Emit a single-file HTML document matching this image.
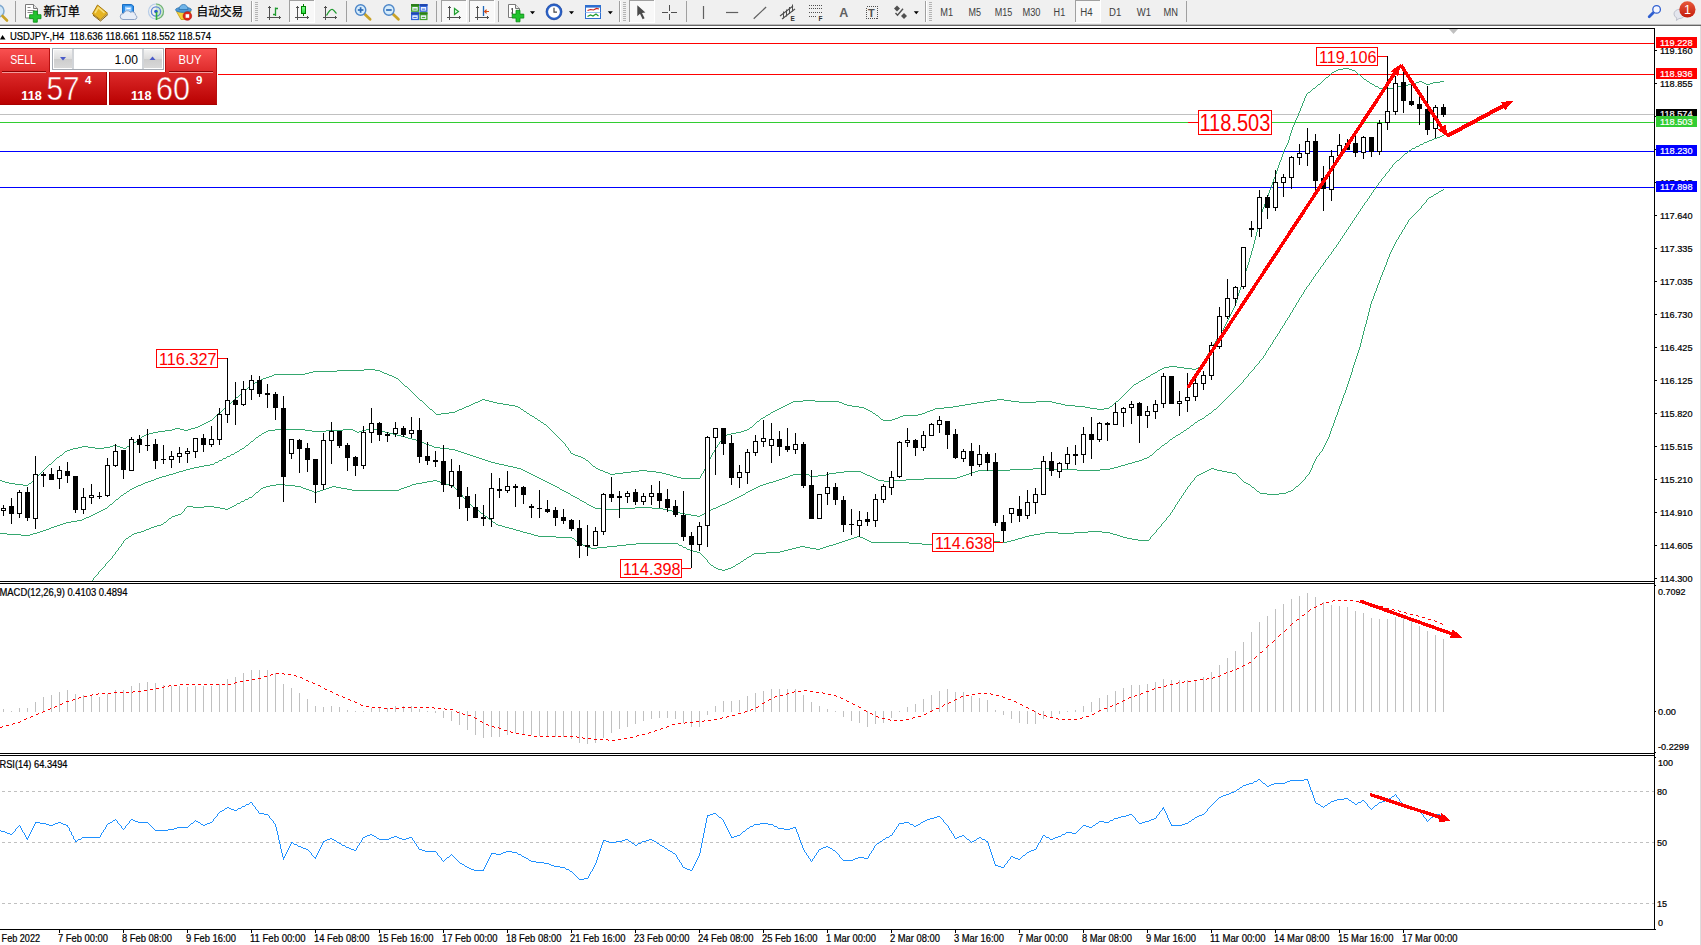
<!DOCTYPE html>
<html lang="zh"><head><meta charset="utf-8"><title>USDJPY-,H4</title>
<style>
html,body{margin:0;padding:0;background:#fff;overflow:hidden}
svg{display:block;font-family:"Liberation Sans","Noto Sans CJK SC",sans-serif}
</style></head><body>
<svg width="1701" height="945" viewBox="0 0 1701 945">
<rect x="0" y="0" width="1701" height="945" fill="#fff"/>
<rect x="0" y="43" width="1654" height="1" fill="#ff0000"/>
<rect x="0" y="74" width="1654" height="1" fill="#ff0000"/>
<rect x="0" y="114" width="1654" height="1" fill="#c0c0c0"/>
<rect x="0" y="122" width="1654" height="1" fill="#32cd32"/>
<rect x="0" y="151" width="1654" height="1" fill="#0000ff"/>
<rect x="0" y="187" width="1654" height="1" fill="#0000ff"/>
<path d="M0 480h2v1h-2zM2 481h3v1h-3zM5 482h4v1h-4zM9 483h6v1h-6zM15 484h8v1h-8zM23 485h5v1h-5zM29 483h2v1h-2zM49 464h2v1h-2zM57 457h2v1h-2zM60 455h2v1h-2zM65 451h2v1h-2zM67 450h3v1h-3zM70 449h3v1h-3zM73 448h5v1h-5zM78 447h4v1h-4zM82 446h6v1h-6zM88 447h7v1h-7zM95 448h9v1h-9zM104 447h6v1h-6zM110 446h3v1h-3zM113 445h4v1h-4zM117 446h3v1h-3zM120 447h3v1h-3zM123 448h3v1h-3zM127 446h3v1h-3zM131 444h2v1h-2zM134 442h2v1h-2zM139 438h2v1h-2zM142 436h2v1h-2zM144 435h2v1h-2zM146 434h3v1h-3zM149 433h4v1h-4zM153 432h5v1h-5zM158 431h7v1h-7zM165 430h7v1h-7zM172 429h3v1h-3zM175 428h5v1h-5zM180 429h4v1h-4zM184 430h4v1h-4zM188 429h3v1h-3zM191 428h4v1h-4zM195 427h3v1h-3zM198 426h2v1h-2zM200 425h2v1h-2zM202 424h2v1h-2zM204 423h2v1h-2zM206 422h2v1h-2zM208 421h2v1h-2zM210 420h2v1h-2zM218 413h2v1h-2zM229 403h2v1h-2zM236 397h2v1h-2zM243 391h2v1h-2zM249 386h2v1h-2zM253 383h2v1h-2zM255 382h2v1h-2zM257 381h2v1h-2zM259 380h2v1h-2zM261 379h2v1h-2zM263 378h3v1h-3zM266 377h3v1h-3zM269 376h3v1h-3zM272 375h2v1h-2zM274 374h31v1h-31zM305 373h4v1h-4zM309 372h4v1h-4zM313 371h24v1h-24zM337 370h27v1h-27zM364 369h11v1h-11zM375 370h5v1h-5zM380 371h2v1h-2zM382 372h2v1h-2zM384 373h3v1h-3zM387 374h2v1h-2zM389 375h3v1h-3zM392 376h2v1h-2zM394 377h2v1h-2zM396 378h2v1h-2zM405 386h2v1h-2zM420 400h2v1h-2zM430 409h2v1h-2zM436 414h5v1h-5zM441 413h8v1h-8zM449 412h6v1h-6zM455 411h2v1h-2zM457 410h2v1h-2zM459 409h3v1h-3zM462 408h2v1h-2zM464 407h2v1h-2zM466 406h3v1h-3zM469 405h2v1h-2zM471 404h2v1h-2zM473 403h2v1h-2zM475 402h3v1h-3zM478 401h2v1h-2zM480 400h2v1h-2zM482 399h3v1h-3zM485 400h4v1h-4zM489 401h4v1h-4zM493 402h4v1h-4zM497 403h6v1h-6zM503 404h6v1h-6zM509 405h6v1h-6zM515 406h3v1h-3zM518 407h2v1h-2zM521 409h2v1h-2zM524 411h2v1h-2zM527 413h2v1h-2zM530 415h2v1h-2zM532 416h2v1h-2zM535 418h2v1h-2zM538 420h2v1h-2zM541 422h2v1h-2zM544 424h2v1h-2zM571 453h2v1h-2zM573 454h2v1h-2zM575 455h3v1h-3zM578 456h3v1h-3zM581 457h2v1h-2zM583 458h2v1h-2zM586 460h2v1h-2zM593 466h2v1h-2zM596 468h2v1h-2zM598 469h2v1h-2zM600 470h3v1h-3zM603 471h2v1h-2zM605 472h3v1h-3zM608 473h2v1h-2zM610 474h5v1h-5zM615 473h8v1h-8zM623 472h8v1h-8zM631 471h8v1h-8zM639 470h8v1h-8zM647 471h9v1h-9zM656 472h6v1h-6zM662 473h4v1h-4zM666 474h4v1h-4zM670 475h3v1h-3zM673 476h4v1h-4zM677 477h4v1h-4zM681 478h19v1h-19zM727 434h4v1h-4zM731 433h5v1h-5zM736 432h5v1h-5zM741 431h3v1h-3zM744 430h3v1h-3zM747 429h2v1h-2zM750 427h2v1h-2zM757 421h2v1h-2zM761 418h2v1h-2zM763 417h2v1h-2zM766 415h2v1h-2zM768 414h2v1h-2zM771 412h2v1h-2zM773 411h2v1h-2zM775 410h2v1h-2zM777 409h2v1h-2zM779 408h2v1h-2zM781 407h2v1h-2zM783 406h2v1h-2zM785 405h2v1h-2zM787 404h2v1h-2zM789 403h2v1h-2zM791 402h2v1h-2zM793 401h10v1h-10zM803 400h12v1h-12zM815 401h24v1h-24zM839 402h3v1h-3zM842 403h2v1h-2zM844 404h3v1h-3zM847 405h5v1h-5zM852 406h7v1h-7zM859 407h5v1h-5zM864 408h2v1h-2zM866 409h2v1h-2zM868 410h2v1h-2zM870 411h2v1h-2zM873 413h2v1h-2zM876 415h2v1h-2zM881 419h2v1h-2zM883 420h9v1h-9zM892 419h3v1h-3zM895 418h3v1h-3zM898 417h2v1h-2zM900 416h3v1h-3zM903 415h15v1h-15zM918 414h4v1h-4zM922 413h3v1h-3zM925 412h2v1h-2zM927 411h3v1h-3zM930 410h3v1h-3zM933 409h2v1h-2zM935 408h9v1h-9zM944 407h9v1h-9zM953 406h6v1h-6zM959 405h6v1h-6zM965 404h6v1h-6zM971 403h6v1h-6zM977 402h7v1h-7zM984 401h6v1h-6zM990 400h7v1h-7zM997 399h7v1h-7zM1004 400h7v1h-7zM1011 401h8v1h-8zM1019 402h17v1h-17zM1036 401h16v1h-16zM1052 402h4v1h-4zM1056 403h5v1h-5zM1061 404h4v1h-4zM1065 405h10v1h-10zM1075 406h10v1h-10zM1085 407h5v1h-5zM1090 408h7v1h-7zM1097 409h7v1h-7zM1104 408h5v1h-5zM1110 406h2v1h-2zM1116 401h2v1h-2zM1134 384h2v1h-2zM1136 383h2v1h-2zM1139 381h2v1h-2zM1141 380h2v1h-2zM1143 379h2v1h-2zM1146 377h2v1h-2zM1148 376h2v1h-2zM1151 374h2v1h-2zM1153 373h2v1h-2zM1155 372h2v1h-2zM1158 370h2v1h-2zM1160 369h2v1h-2zM1162 368h2v1h-2zM1164 367h5v1h-5zM1169 366h8v1h-8zM1177 367h7v1h-7zM1184 368h8v1h-8zM1192 369h4v1h-4zM1196 368h2v1h-2zM1198 367h2v1h-2zM1308 92h2v1h-2zM1313 88h2v1h-2zM1318 84h2v1h-2zM1326 77h2v1h-2zM1332 72h2v1h-2zM1334 71h2v1h-2zM1336 70h2v1h-2zM1338 69h5v1h-5zM1343 68h6v1h-6zM1349 69h3v1h-3zM1352 70h3v1h-3zM1358 74h2v1h-2zM1364 79h2v1h-2zM1367 81h2v1h-2zM1370 83h2v1h-2zM1372 84h2v1h-2zM1375 86h3v1h-3zM1379 88h15v1h-15zM1394 87h4v1h-4zM1398 86h5v1h-5zM1403 85h5v1h-5zM1408 84h5v1h-5zM1413 83h3v1h-3zM1416 82h3v1h-3zM1419 81h3v1h-3zM1422 82h2v1h-2zM1424 83h2v1h-2zM1426 84h4v1h-4zM1430 83h3v1h-3zM1433 82h7v1h-7zM1440 81h4v1h-4zM28 484h1v1h-1zM31 482h1v1h-1zM32 481h1v1h-1zM33 480h1v1h-1zM34 479h1v1h-1zM35 478h1v1h-1zM36 477h1v1h-1zM37 476h1v1h-1zM38 475h1v1h-1zM39 474h1v1h-1zM40 473h1v1h-1zM41 472h1v1h-1zM42 471h1v1h-1zM43 470h1v1h-1zM44 469h1v1h-1zM45 468h1v1h-1zM46 467h1v1h-1zM47 466h1v1h-1zM48 465h1v1h-1zM51 463h1v1h-1zM52 462h1v1h-1zM53 461h1v1h-1zM54 460h1v1h-1zM55 459h1v1h-1zM56 458h1v1h-1zM59 456h1v1h-1zM62 454h1v1h-1zM63 453h1v1h-1zM64 452h1v1h-1zM126 447h1v1h-1zM130 445h1v1h-1zM133 443h1v1h-1zM136 441h1v1h-1zM137 440h1v1h-1zM138 439h1v1h-1zM141 437h1v1h-1zM212 419h1v1h-1zM213 418h1v1h-1zM214 417h1v1h-1zM215 416h1v1h-1zM216 415h1v1h-1zM217 414h1v1h-1zM220 412h1v1h-1zM221 411h1v1h-1zM222 410h1v1h-1zM223 409h1v1h-1zM224 408h1v1h-1zM225 407h1v1h-1zM226 406h1v1h-1zM227 405h1v1h-1zM228 404h1v1h-1zM231 402h1v1h-1zM232 401h1v1h-1zM233 400h1v1h-1zM234 399h1v1h-1zM235 398h1v1h-1zM238 396h1v1h-1zM239 395h1v1h-1zM240 394h1v1h-1zM241 393h1v1h-1zM242 392h1v1h-1zM245 390h1v1h-1zM246 389h1v1h-1zM247 388h1v1h-1zM248 387h1v1h-1zM251 385h1v1h-1zM252 384h1v1h-1zM398 379h1v1h-1zM399 380h1v1h-1zM400 381h1v1h-1zM401 382h1v1h-1zM402 383h1v1h-1zM403 384h1v1h-1zM404 385h1v1h-1zM407 387h1v1h-1zM408 388h1v1h-1zM409 389h1v1h-1zM410 390h1v1h-1zM411 391h1v1h-1zM412 392h1v1h-1zM413 393h1v1h-1zM414 394h1v1h-1zM415 395h1v1h-1zM416 396h1v1h-1zM417 397h1v1h-1zM418 398h1v1h-1zM419 399h1v1h-1zM422 401h1v1h-1zM423 402h1v1h-1zM424 403h1v1h-1zM425 404h1v1h-1zM426 405h1v1h-1zM427 406h1v1h-1zM428 407h1v1h-1zM429 408h1v1h-1zM432 410h1v1h-1zM433 411h1v1h-1zM434 412h1v1h-1zM435 413h1v1h-1zM520 408h1v1h-1zM523 410h1v1h-1zM526 412h1v1h-1zM529 414h1v1h-1zM534 417h1v1h-1zM537 419h1v1h-1zM540 421h1v1h-1zM543 423h1v1h-1zM546 425h1v1h-1zM547 426h1v1h-1zM548 427h1v1h-1zM549 428h1v1h-1zM550 429h1v1h-1zM551 430h1v1h-1zM552 431h1v1h-1zM553 432h1v1h-1zM554 433h1v1h-1zM555 434h1v1h-1zM556 435h1v1h-1zM557 436h1v1h-1zM558 437h1v1h-1zM559 438h1v1h-1zM560 439h1v1h-1zM561 440h1v1h-1zM562 441h1v1h-1zM563 442h1v1h-1zM564 443h1v1h-1zM565 444h1v2h-1zM566 446h1v1h-1zM567 447h1v1h-1zM568 448h1v2h-1zM569 450h1v1h-1zM570 451h1v2h-1zM585 459h1v1h-1zM588 461h1v1h-1zM589 462h1v1h-1zM590 463h1v1h-1zM591 464h1v1h-1zM592 465h1v1h-1zM595 467h1v1h-1zM700 476h1v2h-1zM701 474h1v2h-1zM702 473h1v1h-1zM703 471h1v2h-1zM704 469h1v2h-1zM705 467h1v2h-1zM706 465h1v2h-1zM707 463h1v2h-1zM708 461h1v2h-1zM709 459h1v2h-1zM710 457h1v2h-1zM711 455h1v2h-1zM712 453h1v2h-1zM713 452h1v1h-1zM714 450h1v2h-1zM715 448h1v2h-1zM716 447h1v1h-1zM717 445h1v2h-1zM718 444h1v1h-1zM719 442h1v2h-1zM720 441h1v1h-1zM721 440h1v1h-1zM722 439h1v1h-1zM723 438h1v1h-1zM724 437h1v1h-1zM725 436h1v1h-1zM726 435h1v1h-1zM749 428h1v1h-1zM752 426h1v1h-1zM753 425h1v1h-1zM754 424h1v1h-1zM755 423h1v1h-1zM756 422h1v1h-1zM759 420h1v1h-1zM760 419h1v1h-1zM765 416h1v1h-1zM770 413h1v1h-1zM872 412h1v1h-1zM875 414h1v1h-1zM878 416h1v1h-1zM879 417h1v1h-1zM880 418h1v1h-1zM1109 407h1v1h-1zM1112 405h1v1h-1zM1113 404h1v1h-1zM1114 403h1v1h-1zM1115 402h1v1h-1zM1118 400h1v1h-1zM1119 399h1v1h-1zM1120 398h1v1h-1zM1121 397h1v1h-1zM1122 396h1v1h-1zM1123 395h1v1h-1zM1124 394h1v1h-1zM1125 393h1v1h-1zM1126 392h1v1h-1zM1127 391h1v1h-1zM1128 390h1v1h-1zM1129 389h1v1h-1zM1130 388h1v1h-1zM1131 387h1v1h-1zM1132 386h1v1h-1zM1133 385h1v1h-1zM1138 382h1v1h-1zM1145 378h1v1h-1zM1150 375h1v1h-1zM1157 371h1v1h-1zM1200 366h1v1h-1zM1201 364h1v2h-1zM1202 362h1v2h-1zM1203 361h1v1h-1zM1204 359h1v2h-1zM1205 358h1v1h-1zM1206 356h1v2h-1zM1207 354h1v2h-1zM1208 353h1v1h-1zM1209 351h1v2h-1zM1210 349h1v2h-1zM1211 348h1v1h-1zM1212 346h1v2h-1zM1213 344h1v2h-1zM1214 343h1v1h-1zM1215 341h1v2h-1zM1216 339h1v2h-1zM1217 338h1v1h-1zM1218 336h1v2h-1zM1219 335h1v1h-1zM1220 333h1v2h-1zM1221 331h1v2h-1zM1222 330h1v1h-1zM1223 328h1v2h-1zM1224 326h1v2h-1zM1225 324h1v2h-1zM1226 322h1v2h-1zM1227 320h1v2h-1zM1228 318h1v2h-1zM1229 316h1v2h-1zM1230 314h1v2h-1zM1231 312h1v2h-1zM1232 310h1v2h-1zM1233 308h1v2h-1zM1234 306h1v2h-1zM1235 303h1v3h-1zM1236 300h1v3h-1zM1237 296h1v4h-1zM1238 293h1v3h-1zM1239 290h1v3h-1zM1240 287h1v3h-1zM1241 284h1v3h-1zM1242 281h1v3h-1zM1243 278h1v3h-1zM1244 274h1v4h-1zM1245 271h1v3h-1zM1246 268h1v3h-1zM1247 265h1v3h-1zM1248 262h1v3h-1zM1249 258h1v4h-1zM1250 255h1v3h-1zM1251 251h1v4h-1zM1252 248h1v3h-1zM1253 244h1v4h-1zM1254 240h1v4h-1zM1255 236h1v4h-1zM1256 232h1v4h-1zM1257 228h1v4h-1zM1258 224h1v4h-1zM1259 220h1v4h-1zM1260 216h1v4h-1zM1261 212h1v4h-1zM1262 209h1v3h-1zM1263 207h1v2h-1zM1264 204h1v3h-1zM1265 201h1v3h-1zM1266 198h1v3h-1zM1267 196h1v2h-1zM1268 193h1v3h-1zM1269 190h1v3h-1zM1270 188h1v2h-1zM1271 185h1v3h-1zM1272 182h1v3h-1zM1273 179h1v3h-1zM1274 177h1v2h-1zM1275 174h1v3h-1zM1276 171h1v3h-1zM1277 168h1v3h-1zM1278 165h1v3h-1zM1279 162h1v3h-1zM1280 160h1v2h-1zM1281 157h1v3h-1zM1282 154h1v3h-1zM1283 151h1v3h-1zM1284 149h1v2h-1zM1285 147h1v2h-1zM1286 145h1v2h-1zM1287 143h1v2h-1zM1288 140h1v3h-1zM1289 136h1v4h-1zM1290 133h1v3h-1zM1291 130h1v3h-1zM1292 127h1v3h-1zM1293 125h1v2h-1zM1294 123h1v2h-1zM1295 120h1v3h-1zM1296 118h1v2h-1zM1297 116h1v2h-1zM1298 113h1v3h-1zM1299 111h1v2h-1zM1300 108h1v3h-1zM1301 106h1v2h-1zM1302 103h1v3h-1zM1303 101h1v2h-1zM1304 98h1v3h-1zM1305 96h1v2h-1zM1306 94h1v2h-1zM1307 93h1v1h-1zM1310 91h1v1h-1zM1311 90h1v1h-1zM1312 89h1v1h-1zM1315 87h1v1h-1zM1316 86h1v1h-1zM1317 85h1v1h-1zM1320 83h1v1h-1zM1321 82h1v1h-1zM1322 81h1v1h-1zM1323 80h1v1h-1zM1324 79h1v1h-1zM1325 78h1v1h-1zM1328 76h1v1h-1zM1329 75h1v1h-1zM1330 74h1v1h-1zM1331 73h1v1h-1zM1355 71h1v1h-1zM1356 72h1v1h-1zM1357 73h1v1h-1zM1360 75h1v1h-1zM1361 76h1v1h-1zM1362 77h1v1h-1zM1363 78h1v1h-1zM1366 80h1v1h-1zM1369 82h1v1h-1zM1374 85h1v1h-1zM1378 87h1v1h-1z" fill="#35a76f" shape-rendering="crispEdges"/>
<path d="M0 533h7v1h-7zM7 534h14v1h-14zM21 535h9v1h-9zM30 534h3v1h-3zM33 533h4v1h-4zM37 532h3v1h-3zM40 531h3v1h-3zM43 530h3v1h-3zM46 529h3v1h-3zM49 528h2v1h-2zM51 527h3v1h-3zM54 526h3v1h-3zM57 525h3v1h-3zM60 524h3v1h-3zM63 523h3v1h-3zM66 522h5v1h-5zM71 521h6v1h-6zM77 520h5v1h-5zM82 519h2v1h-2zM84 518h2v1h-2zM86 517h3v1h-3zM89 516h2v1h-2zM91 515h2v1h-2zM93 514h2v1h-2zM95 513h2v1h-2zM97 512h2v1h-2zM99 511h2v1h-2zM101 510h2v1h-2zM103 509h2v1h-2zM105 508h2v1h-2zM110 504h2v1h-2zM116 499h2v1h-2zM121 495h2v1h-2zM124 493h2v1h-2zM127 491h2v1h-2zM130 489h2v1h-2zM132 488h2v1h-2zM134 487h2v1h-2zM136 486h2v1h-2zM138 485h3v1h-3zM141 484h2v1h-2zM143 483h2v1h-2zM145 482h3v1h-3zM148 481h3v1h-3zM151 480h3v1h-3zM154 479h2v1h-2zM156 478h3v1h-3zM159 477h3v1h-3zM162 476h4v1h-4zM166 475h3v1h-3zM169 474h4v1h-4zM173 473h3v1h-3zM176 472h3v1h-3zM179 471h4v1h-4zM183 470h3v1h-3zM186 469h4v1h-4zM190 468h4v1h-4zM194 467h5v1h-5zM199 466h5v1h-5zM204 465h6v1h-6zM210 464h4v1h-4zM215 462h3v1h-3zM219 460h3v1h-3zM223 458h3v1h-3zM227 456h3v1h-3zM231 454h3v1h-3zM235 452h2v1h-2zM237 451h2v1h-2zM240 449h2v1h-2zM242 448h2v1h-2zM246 445h2v1h-2zM251 441h2v1h-2zM256 437h2v1h-2zM259 435h2v1h-2zM262 433h2v1h-2zM264 432h2v1h-2zM266 431h2v1h-2zM268 430h7v1h-7zM275 429h30v1h-30zM305 430h7v1h-7zM312 431h14v1h-14zM326 430h17v1h-17zM343 429h10v1h-10zM353 430h2v1h-2zM355 431h2v1h-2zM357 432h2v1h-2zM359 431h3v1h-3zM362 430h4v1h-4zM366 429h3v1h-3zM369 428h4v1h-4zM373 429h4v1h-4zM377 430h4v1h-4zM381 431h4v1h-4zM385 432h4v1h-4zM389 433h4v1h-4zM393 434h4v1h-4zM397 435h4v1h-4zM401 436h4v1h-4zM405 437h3v1h-3zM408 438h4v1h-4zM412 439h4v1h-4zM416 440h3v1h-3zM419 441h2v1h-2zM421 442h3v1h-3zM424 443h2v1h-2zM426 444h3v1h-3zM429 445h3v1h-3zM432 446h2v1h-2zM434 447h6v1h-6zM440 448h9v1h-9zM449 449h6v1h-6zM455 450h3v1h-3zM458 451h3v1h-3zM461 452h3v1h-3zM464 453h3v1h-3zM467 454h3v1h-3zM470 455h3v1h-3zM473 456h3v1h-3zM476 457h3v1h-3zM479 458h3v1h-3zM482 459h3v1h-3zM485 460h3v1h-3zM488 461h3v1h-3zM491 462h4v1h-4zM495 463h4v1h-4zM499 464h5v1h-5zM504 465h4v1h-4zM508 466h5v1h-5zM513 467h4v1h-4zM517 468h4v1h-4zM521 469h2v1h-2zM523 470h2v1h-2zM525 471h2v1h-2zM527 472h2v1h-2zM529 473h2v1h-2zM531 474h2v1h-2zM533 475h2v1h-2zM535 476h2v1h-2zM537 477h2v1h-2zM539 478h2v1h-2zM541 479h2v1h-2zM543 480h2v1h-2zM545 481h2v1h-2zM547 482h2v1h-2zM549 483h2v1h-2zM551 484h2v1h-2zM553 485h2v1h-2zM555 486h2v1h-2zM557 487h2v1h-2zM560 489h2v1h-2zM562 490h2v1h-2zM564 491h2v1h-2zM566 492h2v1h-2zM568 493h2v1h-2zM571 495h2v1h-2zM573 496h2v1h-2zM575 497h2v1h-2zM577 498h2v1h-2zM580 500h2v1h-2zM582 501h2v1h-2zM584 502h2v1h-2zM587 504h2v1h-2zM589 505h2v1h-2zM591 506h2v1h-2zM593 507h2v1h-2zM595 508h9v1h-9zM604 509h15v1h-15zM619 508h16v1h-16zM635 507h17v1h-17zM652 508h11v1h-11zM663 509h4v1h-4zM667 510h5v1h-5zM672 511h4v1h-4zM676 512h4v1h-4zM680 513h5v1h-5zM685 514h6v1h-6zM691 515h6v1h-6zM697 516h3v1h-3zM700 515h2v1h-2zM702 514h2v1h-2zM705 512h2v1h-2zM707 511h2v1h-2zM709 510h2v1h-2zM711 509h2v1h-2zM713 508h3v1h-3zM716 507h2v1h-2zM718 506h2v1h-2zM720 505h2v1h-2zM722 504h3v1h-3zM725 503h2v1h-2zM727 502h2v1h-2zM729 501h2v1h-2zM731 500h2v1h-2zM733 499h2v1h-2zM735 498h2v1h-2zM737 497h2v1h-2zM739 496h2v1h-2zM741 495h2v1h-2zM743 494h2v1h-2zM746 492h2v1h-2zM748 491h2v1h-2zM750 490h2v1h-2zM752 489h2v1h-2zM754 488h2v1h-2zM756 487h2v1h-2zM758 486h2v1h-2zM760 485h3v1h-3zM763 484h3v1h-3zM766 483h3v1h-3zM769 482h4v1h-4zM773 481h3v1h-3zM776 480h3v1h-3zM779 479h3v1h-3zM782 478h3v1h-3zM785 477h3v1h-3zM788 476h2v1h-2zM790 475h3v1h-3zM793 474h16v1h-16zM810 476h8v1h-8zM818 475h8v1h-8zM826 474h3v1h-3zM829 473h7v1h-7zM836 472h8v1h-8zM844 471h17v1h-17zM861 472h2v1h-2zM863 473h2v1h-2zM865 474h2v1h-2zM867 475h3v1h-3zM870 476h2v1h-2zM872 477h2v1h-2zM874 478h2v1h-2zM876 479h2v1h-2zM878 480h6v1h-6zM884 481h9v1h-9zM893 480h13v1h-13zM906 479h18v1h-18zM924 478h33v1h-33zM957 477h3v1h-3zM960 476h3v1h-3zM963 475h3v1h-3zM966 474h3v1h-3zM969 473h3v1h-3zM972 472h3v1h-3zM975 471h3v1h-3zM978 470h32v1h-32zM1010 469h23v1h-23zM1033 468h20v1h-20zM1053 469h24v1h-24zM1077 470h23v1h-23zM1100 469h10v1h-10zM1110 468h4v1h-4zM1114 467h4v1h-4zM1118 466h3v1h-3zM1121 465h4v1h-4zM1125 464h3v1h-3zM1128 463h4v1h-4zM1132 462h3v1h-3zM1135 461h4v1h-4zM1139 460h3v1h-3zM1142 459h2v1h-2zM1144 458h3v1h-3zM1147 457h2v1h-2zM1150 455h2v1h-2zM1157 449h2v1h-2zM1162 445h2v1h-2zM1165 443h2v1h-2zM1170 439h2v1h-2zM1173 437h2v1h-2zM1176 435h2v1h-2zM1178 434h2v1h-2zM1181 432h2v1h-2zM1184 430h2v1h-2zM1187 428h2v1h-2zM1191 425h2v1h-2zM1195 422h2v1h-2zM1198 420h2v1h-2zM1200 419h2v1h-2zM1202 418h2v1h-2zM1206 415h2v1h-2zM1209 413h2v1h-2zM1214 409h2v1h-2zM1397 160h2v1h-2zM1405 153h2v1h-2zM1409 150h2v1h-2zM1412 148h3v1h-3zM1416 146h3v1h-3zM1420 144h3v1h-3zM1424 142h3v1h-3zM1427 141h2v1h-2zM1429 140h3v1h-3zM1432 139h2v1h-2zM1434 138h3v1h-3zM1437 137h3v1h-3zM1440 136h2v1h-2zM1442 135h2v1h-2zM107 507h1v1h-1zM108 506h1v1h-1zM109 505h1v1h-1zM112 503h1v1h-1zM113 502h1v1h-1zM114 501h1v1h-1zM115 500h1v1h-1zM118 498h1v1h-1zM119 497h1v1h-1zM120 496h1v1h-1zM123 494h1v1h-1zM126 492h1v1h-1zM129 490h1v1h-1zM214 463h1v1h-1zM218 461h1v1h-1zM222 459h1v1h-1zM226 457h1v1h-1zM230 455h1v1h-1zM234 453h1v1h-1zM239 450h1v1h-1zM244 447h1v1h-1zM245 446h1v1h-1zM248 444h1v1h-1zM249 443h1v1h-1zM250 442h1v1h-1zM253 440h1v1h-1zM254 439h1v1h-1zM255 438h1v1h-1zM258 436h1v1h-1zM261 434h1v1h-1zM559 488h1v1h-1zM570 494h1v1h-1zM579 499h1v1h-1zM586 503h1v1h-1zM704 513h1v1h-1zM745 493h1v1h-1zM809 475h1v1h-1zM1149 456h1v1h-1zM1152 454h1v1h-1zM1153 453h1v1h-1zM1154 452h1v1h-1zM1155 451h1v1h-1zM1156 450h1v1h-1zM1159 448h1v1h-1zM1160 447h1v1h-1zM1161 446h1v1h-1zM1164 444h1v1h-1zM1167 442h1v1h-1zM1168 441h1v1h-1zM1169 440h1v1h-1zM1172 438h1v1h-1zM1175 436h1v1h-1zM1180 433h1v1h-1zM1183 431h1v1h-1zM1186 429h1v1h-1zM1189 427h1v1h-1zM1190 426h1v1h-1zM1193 424h1v1h-1zM1194 423h1v1h-1zM1197 421h1v1h-1zM1204 417h1v1h-1zM1205 416h1v1h-1zM1208 414h1v1h-1zM1211 412h1v1h-1zM1212 411h1v1h-1zM1213 410h1v1h-1zM1216 408h1v1h-1zM1217 407h1v1h-1zM1218 406h1v1h-1zM1219 405h1v1h-1zM1220 404h1v1h-1zM1221 403h1v1h-1zM1222 402h1v1h-1zM1223 401h1v1h-1zM1224 400h1v1h-1zM1225 399h1v1h-1zM1226 398h1v1h-1zM1227 397h1v1h-1zM1228 396h1v1h-1zM1229 395h1v1h-1zM1230 394h1v1h-1zM1231 393h1v1h-1zM1232 392h1v1h-1zM1233 391h1v1h-1zM1234 390h1v1h-1zM1235 389h1v1h-1zM1236 388h1v1h-1zM1237 387h1v1h-1zM1238 386h1v1h-1zM1239 385h1v1h-1zM1240 384h1v1h-1zM1241 383h1v1h-1zM1242 382h1v1h-1zM1243 380h1v2h-1zM1244 379h1v1h-1zM1245 378h1v1h-1zM1246 377h1v1h-1zM1247 376h1v1h-1zM1248 374h1v2h-1zM1249 373h1v1h-1zM1250 372h1v1h-1zM1251 371h1v1h-1zM1252 370h1v1h-1zM1253 369h1v1h-1zM1254 367h1v2h-1zM1255 366h1v1h-1zM1256 365h1v1h-1zM1257 364h1v1h-1zM1258 363h1v1h-1zM1259 361h1v2h-1zM1260 360h1v1h-1zM1261 359h1v1h-1zM1262 358h1v1h-1zM1263 356h1v2h-1zM1264 355h1v1h-1zM1265 353h1v2h-1zM1266 351h1v2h-1zM1267 350h1v1h-1zM1268 348h1v2h-1zM1269 347h1v1h-1zM1270 345h1v2h-1zM1271 344h1v1h-1zM1272 342h1v2h-1zM1273 340h1v2h-1zM1274 339h1v1h-1zM1275 337h1v2h-1zM1276 336h1v1h-1zM1277 334h1v2h-1zM1278 333h1v1h-1zM1279 331h1v2h-1zM1280 329h1v2h-1zM1281 328h1v1h-1zM1282 326h1v2h-1zM1283 325h1v1h-1zM1284 323h1v2h-1zM1285 321h1v2h-1zM1286 320h1v1h-1zM1287 318h1v2h-1zM1288 317h1v1h-1zM1289 315h1v2h-1zM1290 313h1v2h-1zM1291 312h1v1h-1zM1292 310h1v2h-1zM1293 308h1v2h-1zM1294 307h1v1h-1zM1295 305h1v2h-1zM1296 303h1v2h-1zM1297 302h1v1h-1zM1298 300h1v2h-1zM1299 298h1v2h-1zM1300 297h1v1h-1zM1301 295h1v2h-1zM1302 294h1v1h-1zM1303 292h1v2h-1zM1304 290h1v2h-1zM1305 289h1v1h-1zM1306 287h1v2h-1zM1307 286h1v1h-1zM1308 285h1v1h-1zM1309 283h1v2h-1zM1310 282h1v1h-1zM1311 280h1v2h-1zM1312 279h1v1h-1zM1313 277h1v2h-1zM1314 276h1v1h-1zM1315 274h1v2h-1zM1316 273h1v1h-1zM1317 272h1v1h-1zM1318 270h1v2h-1zM1319 269h1v1h-1zM1320 267h1v2h-1zM1321 266h1v1h-1zM1322 265h1v1h-1zM1323 263h1v2h-1zM1324 262h1v1h-1zM1325 260h1v2h-1zM1326 259h1v1h-1zM1327 258h1v1h-1zM1328 256h1v2h-1zM1329 255h1v1h-1zM1330 254h1v1h-1zM1331 252h1v2h-1zM1332 251h1v1h-1zM1333 249h1v2h-1zM1334 248h1v1h-1zM1335 247h1v1h-1zM1336 245h1v2h-1zM1337 244h1v1h-1zM1338 242h1v2h-1zM1339 241h1v1h-1zM1340 239h1v2h-1zM1341 238h1v1h-1zM1342 236h1v2h-1zM1343 235h1v1h-1zM1344 233h1v2h-1zM1345 232h1v1h-1zM1346 230h1v2h-1zM1347 229h1v1h-1zM1348 227h1v2h-1zM1349 226h1v1h-1zM1350 224h1v2h-1zM1351 223h1v1h-1zM1352 221h1v2h-1zM1353 220h1v1h-1zM1354 218h1v2h-1zM1355 217h1v1h-1zM1356 215h1v2h-1zM1357 214h1v1h-1zM1358 212h1v2h-1zM1359 211h1v1h-1zM1360 209h1v2h-1zM1361 208h1v1h-1zM1362 206h1v2h-1zM1363 205h1v1h-1zM1364 203h1v2h-1zM1365 202h1v1h-1zM1366 201h1v1h-1zM1367 199h1v2h-1zM1368 198h1v1h-1zM1369 196h1v2h-1zM1370 195h1v1h-1zM1371 193h1v2h-1zM1372 192h1v1h-1zM1373 190h1v2h-1zM1374 189h1v1h-1zM1375 187h1v2h-1zM1376 186h1v1h-1zM1377 185h1v1h-1zM1378 183h1v2h-1zM1379 182h1v1h-1zM1380 181h1v1h-1zM1381 179h1v2h-1zM1382 178h1v1h-1zM1383 177h1v1h-1zM1384 176h1v1h-1zM1385 174h1v2h-1zM1386 173h1v1h-1zM1387 172h1v1h-1zM1388 171h1v1h-1zM1389 169h1v2h-1zM1390 168h1v1h-1zM1391 167h1v1h-1zM1392 165h1v2h-1zM1393 164h1v1h-1zM1394 163h1v1h-1zM1395 162h1v1h-1zM1396 161h1v1h-1zM1399 159h1v1h-1zM1400 158h1v1h-1zM1401 157h1v1h-1zM1402 156h1v1h-1zM1403 155h1v1h-1zM1404 154h1v1h-1zM1407 152h1v1h-1zM1408 151h1v1h-1zM1411 149h1v1h-1zM1415 147h1v1h-1zM1419 145h1v1h-1zM1423 143h1v1h-1z" fill="#35a76f" shape-rendering="crispEdges"/>
<path d="M126 538h2v1h-2zM129 536h2v1h-2zM132 534h2v1h-2zM134 533h3v1h-3zM137 532h4v1h-4zM141 531h3v1h-3zM144 530h2v1h-2zM146 529h3v1h-3zM149 528h2v1h-2zM151 527h3v1h-3zM154 526h3v1h-3zM157 525h4v1h-4zM161 524h2v1h-2zM164 522h2v1h-2zM169 518h2v1h-2zM172 516h3v1h-3zM175 515h3v1h-3zM178 514h3v1h-3zM187 506h6v1h-6zM193 507h11v1h-11zM204 506h10v1h-10zM214 507h6v1h-6zM220 508h5v1h-5zM225 509h3v1h-3zM228 508h2v1h-2zM230 507h2v1h-2zM232 506h2v1h-2zM234 505h2v1h-2zM237 503h3v1h-3zM241 501h3v1h-3zM245 499h3v1h-3zM249 497h3v1h-3zM256 492h2v1h-2zM261 488h2v1h-2zM263 487h3v1h-3zM266 486h4v1h-4zM270 485h6v1h-6zM276 484h9v1h-9zM285 485h10v1h-10zM295 486h6v1h-6zM301 487h2v1h-2zM303 488h3v1h-3zM306 489h3v1h-3zM309 490h3v1h-3zM312 491h2v1h-2zM314 492h3v1h-3zM317 491h3v1h-3zM320 490h3v1h-3zM323 489h3v1h-3zM326 488h3v1h-3zM329 487h3v1h-3zM332 486h4v1h-4zM336 487h5v1h-5zM341 488h6v1h-6zM347 489h5v1h-5zM352 490h47v1h-47zM399 489h2v1h-2zM401 488h3v1h-3zM404 487h3v1h-3zM407 486h3v1h-3zM410 485h2v1h-2zM412 484h4v1h-4zM416 483h6v1h-6zM422 482h5v1h-5zM427 481h6v1h-6zM433 480h4v1h-4zM437 481h3v1h-3zM440 482h3v1h-3zM443 483h3v1h-3zM446 484h3v1h-3zM449 485h3v1h-3zM452 486h2v1h-2zM473 507h2v1h-2zM477 510h2v1h-2zM481 513h2v1h-2zM485 516h2v1h-2zM489 519h2v1h-2zM493 522h2v1h-2zM496 524h2v1h-2zM498 525h4v1h-4zM502 526h3v1h-3zM505 527h4v1h-4zM509 528h4v1h-4zM513 529h3v1h-3zM516 530h4v1h-4zM520 531h3v1h-3zM523 532h4v1h-4zM527 533h4v1h-4zM531 534h3v1h-3zM534 535h4v1h-4zM538 536h18v1h-18zM556 537h16v1h-16zM572 538h2v1h-2zM576 541h2v1h-2zM579 543h2v1h-2zM581 544h2v1h-2zM583 545h3v1h-3zM586 546h2v1h-2zM588 547h3v1h-3zM591 548h6v1h-6zM597 547h10v1h-10zM607 546h10v1h-10zM617 545h9v1h-9zM626 544h10v1h-10zM636 543h42v1h-42zM679 545h3v1h-3zM683 547h3v1h-3zM687 549h3v1h-3zM690 550h3v1h-3zM693 551h4v1h-4zM697 552h3v1h-3zM711 565h2v1h-2zM714 567h2v1h-2zM716 568h2v1h-2zM718 569h4v1h-4zM722 570h3v1h-3zM725 569h3v1h-3zM728 568h3v1h-3zM731 567h2v1h-2zM733 566h2v1h-2zM736 564h2v1h-2zM738 563h2v1h-2zM741 561h2v1h-2zM744 559h2v1h-2zM747 557h2v1h-2zM749 556h2v1h-2zM752 554h2v1h-2zM754 553h12v1h-12zM766 552h14v1h-14zM780 551h4v1h-4zM784 550h4v1h-4zM788 549h4v1h-4zM792 548h4v1h-4zM796 547h4v1h-4zM800 546h5v1h-5zM805 547h5v1h-5zM810 548h6v1h-6zM816 549h4v1h-4zM820 548h3v1h-3zM823 547h3v1h-3zM826 546h3v1h-3zM829 545h4v1h-4zM833 544h3v1h-3zM836 543h3v1h-3zM839 542h3v1h-3zM842 541h3v1h-3zM845 540h3v1h-3zM848 539h3v1h-3zM851 538h3v1h-3zM854 537h3v1h-3zM857 536h3v1h-3zM860 537h3v1h-3zM863 538h2v1h-2zM865 539h2v1h-2zM867 540h2v1h-2zM869 541h2v1h-2zM871 542h38v1h-38zM909 543h13v1h-13zM922 544h18v1h-18zM940 543h22v1h-22zM962 542h22v1h-22zM984 541h16v1h-16zM1000 542h7v1h-7zM1007 541h4v1h-4zM1011 540h4v1h-4zM1015 539h3v1h-3zM1018 538h4v1h-4zM1022 537h3v1h-3zM1025 536h4v1h-4zM1029 535h5v1h-5zM1034 534h6v1h-6zM1040 533h5v1h-5zM1045 532h13v1h-13zM1058 533h16v1h-16zM1074 532h14v1h-14zM1088 531h14v1h-14zM1102 532h8v1h-8zM1110 533h3v1h-3zM1113 534h4v1h-4zM1117 535h3v1h-3zM1120 536h3v1h-3zM1123 537h4v1h-4zM1127 538h5v1h-5zM1132 539h6v1h-6zM1138 540h11v1h-11zM1197 475h2v1h-2zM1199 474h2v1h-2zM1201 473h2v1h-2zM1203 472h2v1h-2zM1205 471h2v1h-2zM1207 470h2v1h-2zM1209 469h2v1h-2zM1211 468h3v1h-3zM1214 469h3v1h-3zM1217 470h5v1h-5zM1222 471h5v1h-5zM1227 472h5v1h-5zM1232 473h4v1h-4zM1244 482h2v1h-2zM1246 483h2v1h-2zM1248 484h2v1h-2zM1252 487h2v1h-2zM1257 491h2v1h-2zM1260 493h7v1h-7zM1267 494h12v1h-12zM1279 493h7v1h-7zM1286 492h2v1h-2zM1288 491h3v1h-3zM1291 490h2v1h-2zM1296 486h2v1h-2zM1429 197h2v1h-2zM1431 196h2v1h-2zM1434 194h2v1h-2zM1436 193h2v1h-2zM1439 191h2v1h-2zM1441 190h2v1h-2zM91 581h1v1h-1zM92 580h1v1h-1zM93 578h1v2h-1zM94 577h1v1h-1zM95 576h1v1h-1zM96 575h1v1h-1zM97 574h1v1h-1zM98 572h1v2h-1zM99 571h1v1h-1zM100 570h1v1h-1zM101 569h1v1h-1zM102 568h1v1h-1zM103 567h1v1h-1zM104 566h1v1h-1zM105 564h1v2h-1zM106 563h1v1h-1zM107 562h1v1h-1zM108 561h1v1h-1zM109 560h1v1h-1zM110 559h1v1h-1zM111 558h1v1h-1zM112 556h1v2h-1zM113 555h1v1h-1zM114 554h1v1h-1zM115 552h1v2h-1zM116 551h1v1h-1zM117 550h1v1h-1zM118 548h1v2h-1zM119 547h1v1h-1zM120 546h1v1h-1zM121 544h1v2h-1zM122 543h1v1h-1zM123 541h1v2h-1zM124 540h1v1h-1zM125 539h1v1h-1zM128 537h1v1h-1zM131 535h1v1h-1zM163 523h1v1h-1zM166 521h1v1h-1zM167 520h1v1h-1zM168 519h1v1h-1zM171 517h1v1h-1zM181 513h1v1h-1zM182 512h1v1h-1zM183 511h1v1h-1zM184 509h1v2h-1zM185 508h1v1h-1zM186 507h1v1h-1zM236 504h1v1h-1zM240 502h1v1h-1zM244 500h1v1h-1zM248 498h1v1h-1zM252 496h1v1h-1zM253 495h1v1h-1zM254 494h1v1h-1zM255 493h1v1h-1zM258 491h1v1h-1zM259 490h1v1h-1zM260 489h1v1h-1zM454 487h1v1h-1zM455 488h1v1h-1zM456 489h1v1h-1zM457 490h1v1h-1zM458 491h1v1h-1zM459 492h1v1h-1zM460 493h1v1h-1zM461 494h1v1h-1zM462 495h1v2h-1zM463 497h1v1h-1zM464 498h1v1h-1zM465 499h1v1h-1zM466 500h1v1h-1zM467 501h1v1h-1zM468 502h1v1h-1zM469 503h1v1h-1zM470 504h1v1h-1zM471 505h1v1h-1zM472 506h1v1h-1zM475 508h1v1h-1zM476 509h1v1h-1zM479 511h1v1h-1zM480 512h1v1h-1zM483 514h1v1h-1zM484 515h1v1h-1zM487 517h1v1h-1zM488 518h1v1h-1zM491 520h1v1h-1zM492 521h1v1h-1zM495 523h1v1h-1zM574 539h1v1h-1zM575 540h1v1h-1zM578 542h1v1h-1zM678 544h1v1h-1zM682 546h1v1h-1zM686 548h1v1h-1zM700 553h1v1h-1zM701 554h1v1h-1zM702 555h1v1h-1zM703 556h1v1h-1zM704 557h1v1h-1zM705 558h1v1h-1zM706 559h1v1h-1zM707 560h1v2h-1zM708 562h1v1h-1zM709 563h1v1h-1zM710 564h1v1h-1zM713 566h1v1h-1zM735 565h1v1h-1zM740 562h1v1h-1zM743 560h1v1h-1zM746 558h1v1h-1zM751 555h1v1h-1zM1149 539h1v1h-1zM1150 537h1v2h-1zM1151 536h1v1h-1zM1152 535h1v1h-1zM1153 534h1v1h-1zM1154 533h1v1h-1zM1155 532h1v1h-1zM1156 530h1v2h-1zM1157 529h1v1h-1zM1158 528h1v1h-1zM1159 527h1v1h-1zM1160 526h1v1h-1zM1161 524h1v2h-1zM1162 523h1v1h-1zM1163 522h1v1h-1zM1164 521h1v1h-1zM1165 520h1v1h-1zM1166 518h1v2h-1zM1167 517h1v1h-1zM1168 516h1v1h-1zM1169 515h1v1h-1zM1170 513h1v2h-1zM1171 512h1v1h-1zM1172 510h1v2h-1zM1173 509h1v1h-1zM1174 507h1v2h-1zM1175 505h1v2h-1zM1176 504h1v1h-1zM1177 502h1v2h-1zM1178 501h1v1h-1zM1179 499h1v2h-1zM1180 498h1v1h-1zM1181 496h1v2h-1zM1182 495h1v1h-1zM1183 493h1v2h-1zM1184 492h1v1h-1zM1185 490h1v2h-1zM1186 489h1v1h-1zM1187 487h1v2h-1zM1188 486h1v1h-1zM1189 485h1v1h-1zM1190 483h1v2h-1zM1191 482h1v1h-1zM1192 481h1v1h-1zM1193 480h1v1h-1zM1194 478h1v2h-1zM1195 477h1v1h-1zM1196 476h1v1h-1zM1236 474h1v1h-1zM1237 475h1v1h-1zM1238 476h1v1h-1zM1239 477h1v1h-1zM1240 478h1v1h-1zM1241 479h1v1h-1zM1242 480h1v1h-1zM1243 481h1v1h-1zM1250 485h1v1h-1zM1251 486h1v1h-1zM1254 488h1v1h-1zM1255 489h1v1h-1zM1256 490h1v1h-1zM1259 492h1v1h-1zM1293 489h1v1h-1zM1294 488h1v1h-1zM1295 487h1v1h-1zM1298 485h1v1h-1zM1299 484h1v1h-1zM1300 483h1v1h-1zM1301 482h1v1h-1zM1302 481h1v1h-1zM1303 480h1v1h-1zM1304 479h1v1h-1zM1305 477h1v2h-1zM1306 476h1v1h-1zM1307 475h1v1h-1zM1308 474h1v1h-1zM1309 472h1v2h-1zM1310 470h1v2h-1zM1311 468h1v2h-1zM1312 465h1v3h-1zM1313 463h1v2h-1zM1314 461h1v2h-1zM1315 459h1v2h-1zM1316 457h1v2h-1zM1317 456h1v1h-1zM1318 455h1v1h-1zM1319 453h1v2h-1zM1320 452h1v1h-1zM1321 451h1v1h-1zM1322 449h1v2h-1zM1323 447h1v2h-1zM1324 445h1v2h-1zM1325 443h1v2h-1zM1326 441h1v2h-1zM1327 439h1v2h-1zM1328 437h1v2h-1zM1329 434h1v3h-1zM1330 431h1v3h-1zM1331 428h1v3h-1zM1332 426h1v2h-1zM1333 423h1v3h-1zM1334 420h1v3h-1zM1335 417h1v3h-1zM1336 415h1v2h-1zM1337 412h1v3h-1zM1338 409h1v3h-1zM1339 406h1v3h-1zM1340 404h1v2h-1zM1341 401h1v3h-1zM1342 398h1v3h-1zM1343 395h1v3h-1zM1344 393h1v2h-1zM1345 390h1v3h-1zM1346 387h1v3h-1zM1347 384h1v3h-1zM1348 381h1v3h-1zM1349 378h1v3h-1zM1350 375h1v3h-1zM1351 372h1v3h-1zM1352 368h1v4h-1zM1353 365h1v3h-1zM1354 362h1v3h-1zM1355 359h1v3h-1zM1356 356h1v3h-1zM1357 353h1v3h-1zM1358 350h1v3h-1zM1359 347h1v3h-1zM1360 343h1v4h-1zM1361 339h1v4h-1zM1362 335h1v4h-1zM1363 331h1v4h-1zM1364 327h1v4h-1zM1365 324h1v3h-1zM1366 320h1v4h-1zM1367 316h1v4h-1zM1368 312h1v4h-1zM1369 308h1v4h-1zM1370 304h1v4h-1zM1371 301h1v3h-1zM1372 299h1v2h-1zM1373 296h1v3h-1zM1374 293h1v3h-1zM1375 291h1v2h-1zM1376 288h1v3h-1zM1377 285h1v3h-1zM1378 283h1v2h-1zM1379 280h1v3h-1zM1380 277h1v3h-1zM1381 275h1v2h-1zM1382 272h1v3h-1zM1383 270h1v2h-1zM1384 267h1v3h-1zM1385 265h1v2h-1zM1386 262h1v3h-1zM1387 259h1v3h-1zM1388 257h1v2h-1zM1389 254h1v3h-1zM1390 252h1v2h-1zM1391 250h1v2h-1zM1392 248h1v2h-1zM1393 246h1v2h-1zM1394 244h1v2h-1zM1395 242h1v2h-1zM1396 240h1v2h-1zM1397 239h1v1h-1zM1398 237h1v2h-1zM1399 235h1v2h-1zM1400 234h1v1h-1zM1401 232h1v2h-1zM1402 230h1v2h-1zM1403 229h1v1h-1zM1404 227h1v2h-1zM1405 225h1v2h-1zM1406 224h1v1h-1zM1407 222h1v2h-1zM1408 220h1v2h-1zM1409 219h1v1h-1zM1410 218h1v1h-1zM1411 217h1v1h-1zM1412 216h1v1h-1zM1413 215h1v1h-1zM1414 214h1v1h-1zM1415 213h1v1h-1zM1416 212h1v1h-1zM1417 211h1v1h-1zM1418 210h1v1h-1zM1419 209h1v1h-1zM1420 208h1v1h-1zM1421 206h1v2h-1zM1422 205h1v1h-1zM1423 204h1v1h-1zM1424 203h1v1h-1zM1425 202h1v1h-1zM1426 200h1v2h-1zM1427 199h1v1h-1zM1428 198h1v1h-1zM1433 195h1v1h-1zM1438 192h1v1h-1zM1443 189h1v1h-1z" fill="#35a76f" shape-rendering="crispEdges"/>
<g shape-rendering="crispEdges">
<path d="M3 505h1V516h-1zM11 498h1V524h-1zM19 490h1V518h-1zM27 487h1V521h-1zM35 456h1V529h-1zM43 472h1V487h-1zM51 468h1V480h-1zM59 466h1V489h-1zM67 462h1V483h-1zM75 476h1V513h-1zM83 488h1V514h-1zM91 484h1V504h-1zM99 492h1V499h-1zM107 458h1V497h-1zM115 444h1V467h-1zM123 450h1V479h-1zM131 437h1V471h-1zM139 435h1V453h-1zM147 429h1V451h-1zM155 439h1V469h-1zM163 445h1V464h-1zM171 451h1V468h-1zM179 447h1V463h-1zM187 448h1V463h-1zM195 438h1V458h-1zM203 434h1V452h-1zM211 426h1V447h-1zM219 408h1V445h-1zM227 358h1V423h-1zM235 382h1V425h-1zM243 381h1V406h-1zM251 375h1V400h-1zM259 376h1V397h-1zM267 384h1V408h-1zM275 392h1V420h-1zM283 396h1V502h-1zM291 439h1V459h-1zM299 439h1V473h-1zM307 443h1V472h-1zM315 459h1V503h-1zM323 433h1V490h-1zM331 422h1V464h-1zM339 431h1V448h-1zM347 443h1V471h-1zM355 456h1V476h-1zM363 426h1V469h-1zM371 408h1V443h-1zM379 422h1V441h-1zM387 432h1V442h-1zM395 422h1V437h-1zM403 426h1V437h-1zM411 417h1V438h-1zM419 418h1V463h-1zM427 442h1V465h-1zM435 451h1V467h-1zM443 445h1V492h-1zM451 459h1V488h-1zM459 465h1V509h-1zM467 487h1V521h-1zM475 494h1V518h-1zM483 505h1V526h-1zM491 473h1V527h-1zM499 478h1V498h-1zM507 471h1V493h-1zM515 484h1V507h-1zM523 486h1V504h-1zM531 504h1V518h-1zM539 490h1V518h-1zM547 500h1V513h-1zM555 507h1V526h-1zM563 509h1V524h-1zM571 519h1V531h-1zM579 520h1V558h-1zM587 525h1V556h-1zM595 527h1V546h-1zM603 493h1V535h-1zM611 477h1V502h-1zM619 491h1V518h-1zM627 491h1V503h-1zM635 489h1V505h-1zM643 493h1V505h-1zM651 485h1V505h-1zM659 481h1V508h-1zM667 489h1V512h-1zM675 500h1V517h-1zM683 491h1V541h-1zM691 532h1V568h-1zM699 522h1V551h-1zM707 436h1V547h-1zM715 428h1V475h-1zM723 428h1V455h-1zM731 435h1V485h-1zM739 465h1V488h-1zM747 449h1V484h-1zM755 435h1V456h-1zM763 420h1V447h-1zM771 423h1V463h-1zM779 431h1V456h-1zM787 428h1V452h-1zM795 433h1V454h-1zM803 442h1V488h-1zM811 470h1V519h-1zM819 494h1V519h-1zM827 472h1V505h-1zM835 483h1V505h-1zM843 496h1V532h-1zM851 509h1V535h-1zM859 511h1V537h-1zM867 512h1V526h-1zM875 494h1V527h-1zM883 484h1V503h-1zM891 471h1V495h-1zM899 441h1V478h-1zM907 428h1V447h-1zM915 439h1V456h-1zM923 431h1V451h-1zM931 423h1V436h-1zM939 416h1V433h-1zM947 421h1V449h-1zM955 429h1V459h-1zM963 449h1V462h-1zM971 443h1V476h-1zM979 445h1V467h-1zM987 452h1V471h-1zM995 453h1V526h-1zM1003 515h1V542h-1zM1011 508h1V523h-1zM1019 496h1V522h-1zM1027 490h1V519h-1zM1035 488h1V514h-1zM1043 456h1V495h-1zM1051 452h1V476h-1zM1059 462h1V478h-1zM1067 447h1V469h-1zM1075 445h1V465h-1zM1083 427h1V463h-1zM1091 417h1V459h-1zM1099 422h1V442h-1zM1107 422h1V441h-1zM1115 403h1V425h-1zM1123 407h1V427h-1zM1131 401h1V424h-1zM1139 402h1V443h-1zM1147 406h1V428h-1zM1155 400h1V419h-1zM1163 373h1V408h-1zM1171 376h1V404h-1zM1179 391h1V416h-1zM1187 373h1V412h-1zM1195 378h1V401h-1zM1203 371h1V390h-1zM1211 342h1V380h-1zM1219 307h1V349h-1zM1227 279h1V319h-1zM1235 286h1V306h-1zM1243 247h1V289h-1zM1251 221h1V237h-1zM1259 190h1V237h-1zM1267 195h1V219h-1zM1275 170h1V211h-1zM1283 174h1V197h-1zM1291 156h1V189h-1zM1299 144h1V165h-1zM1307 128h1V166h-1zM1315 134h1V191h-1zM1323 166h1V211h-1zM1331 150h1V201h-1zM1339 134h1V156h-1zM1347 139h1V150h-1zM1355 131h1V157h-1zM1363 136h1V159h-1zM1371 137h1V157h-1zM1379 120h1V155h-1zM1387 56h1V130h-1zM1395 76h1V115h-1zM1403 71h1V113h-1zM1411 84h1V106h-1zM1419 96h1V125h-1zM1427 86h1V135h-1zM1435 105h1V138h-1zM1443 104h1V117h-1z" fill="#000"/>
<path d="M1 508h5v3h-5zM9 506h5v8h-5zM17 492h5v22h-5zM25 492h5v26h-5zM33 474h5v45h-5zM41 474h5v2h-5zM49 474h5v6h-5zM57 470h5v9h-5zM65 471h5v5h-5zM73 476h5v34h-5zM81 497h5v13h-5zM89 495h5v3h-5zM97 496h5v1h-5zM105 465h5v31h-5zM113 451h5v15h-5zM121 450h5v20h-5zM129 439h5v32h-5zM137 439h5v6h-5zM145 445h5v1h-5zM153 444h5v17h-5zM161 459h5v1h-5zM169 456h5v4h-5zM177 453h5v4h-5zM185 451h5v3h-5zM193 438h5v14h-5zM201 438h5v7h-5zM209 439h5v6h-5zM217 414h5v26h-5zM225 400h5v15h-5zM233 400h5v5h-5zM241 389h5v16h-5zM249 380h5v10h-5zM257 380h5v14h-5zM265 393h5v2h-5zM273 394h5v14h-5zM281 408h5v69h-5zM289 439h5v15h-5zM297 440h5v9h-5zM305 448h5v12h-5zM313 459h5v26h-5zM321 440h5v45h-5zM329 431h5v10h-5zM337 431h5v15h-5zM345 445h5v13h-5zM353 457h5v9h-5zM361 432h5v34h-5zM369 423h5v10h-5zM377 423h5v12h-5zM385 434h5v2h-5zM393 428h5v6h-5zM401 428h5v7h-5zM409 430h5v4h-5zM417 430h5v27h-5zM425 456h5v5h-5zM433 460h5v2h-5zM441 461h5v24h-5zM449 471h5v15h-5zM457 471h5v26h-5zM465 496h5v12h-5zM473 507h5v11h-5zM481 517h5v2h-5zM489 488h5v31h-5zM497 489h5v2h-5zM505 486h5v5h-5zM513 486h5v2h-5zM521 487h5v8h-5zM529 506h5v2h-5zM537 508h5v1h-5zM545 509h5v3h-5zM553 510h5v8h-5zM561 517h5v4h-5zM569 520h5v9h-5zM577 528h5v18h-5zM585 545h5v2h-5zM593 531h5v15h-5zM601 494h5v38h-5zM609 494h5v4h-5zM617 496h5v2h-5zM625 493h5v4h-5zM633 492h5v10h-5zM641 496h5v6h-5zM649 493h5v4h-5zM657 493h5v8h-5zM665 499h5v9h-5zM673 506h5v9h-5zM681 515h5v22h-5zM689 536h5v9h-5zM697 526h5v19h-5zM705 437h5v89h-5zM713 428h5v10h-5zM721 428h5v16h-5zM729 443h5v35h-5zM737 472h5v6h-5zM745 452h5v21h-5zM753 441h5v12h-5zM761 438h5v4h-5zM769 439h5v7h-5zM777 439h5v8h-5zM785 446h5v4h-5zM793 444h5v6h-5zM801 444h5v42h-5zM809 485h5v34h-5zM817 494h5v25h-5zM825 487h5v7h-5zM833 487h5v13h-5zM841 500h5v25h-5zM849 524h5v1h-5zM857 520h5v6h-5zM865 519h5v3h-5zM873 499h5v22h-5zM881 486h5v14h-5zM889 477h5v11h-5zM897 442h5v35h-5zM905 440h5v3h-5zM913 440h5v8h-5zM921 435h5v13h-5zM929 424h5v12h-5zM937 420h5v5h-5zM945 421h5v14h-5zM953 434h5v24h-5zM961 451h5v8h-5zM969 451h5v15h-5zM977 454h5v11h-5zM985 454h5v9h-5zM993 462h5v61h-5zM1001 522h5v9h-5zM1009 508h5v6h-5zM1017 509h5v7h-5zM1025 502h5v14h-5zM1033 494h5v9h-5zM1041 461h5v34h-5zM1049 461h5v10h-5zM1057 463h5v9h-5zM1065 454h5v10h-5zM1073 454h5v2h-5zM1081 434h5v21h-5zM1089 434h5v6h-5zM1097 423h5v17h-5zM1105 423h5v2h-5zM1113 412h5v13h-5zM1121 408h5v5h-5zM1129 404h5v4h-5zM1137 403h5v13h-5zM1145 411h5v5h-5zM1153 404h5v8h-5zM1161 376h5v28h-5zM1169 376h5v28h-5zM1177 401h5v3h-5zM1185 397h5v4h-5zM1193 383h5v14h-5zM1201 375h5v9h-5zM1209 345h5v31h-5zM1217 316h5v31h-5zM1225 298h5v19h-5zM1233 287h5v12h-5zM1241 247h5v40h-5zM1249 228h5v2h-5zM1257 197h5v32h-5zM1265 197h5v11h-5zM1273 182h5v26h-5zM1281 177h5v6h-5zM1289 157h5v21h-5zM1297 153h5v5h-5zM1305 141h5v13h-5zM1313 141h5v40h-5zM1321 178h5v11h-5zM1329 156h5v34h-5zM1337 145h5v11h-5zM1345 143h5v7h-5zM1353 143h5v10h-5zM1361 137h5v16h-5zM1369 137h5v15h-5zM1377 123h5v29h-5zM1385 111h5v12h-5zM1393 83h5v29h-5zM1401 82h5v19h-5zM1409 101h5v4h-5zM1417 104h5v5h-5zM1425 109h5v21h-5zM1433 107h5v22h-5zM1441 107h5v8h-5z" fill="#000"/>
<path d="M2 509h3v1h-3zM18 493h3v20h-3zM34 475h3v43h-3zM58 471h3v7h-3zM82 498h3v11h-3zM90 496h3v1h-3zM106 466h3v29h-3zM114 452h3v13h-3zM130 440h3v30h-3zM170 457h3v2h-3zM178 454h3v2h-3zM186 452h3v1h-3zM194 439h3v12h-3zM210 440h3v4h-3zM218 415h3v24h-3zM226 401h3v13h-3zM242 390h3v14h-3zM250 381h3v8h-3zM290 440h3v13h-3zM322 441h3v43h-3zM330 432h3v8h-3zM362 433h3v32h-3zM370 424h3v8h-3zM394 429h3v4h-3zM410 431h3v2h-3zM450 472h3v13h-3zM490 489h3v29h-3zM506 487h3v3h-3zM594 532h3v13h-3zM602 495h3v36h-3zM626 494h3v2h-3zM642 497h3v4h-3zM650 494h3v2h-3zM698 527h3v17h-3zM706 438h3v87h-3zM714 429h3v8h-3zM738 473h3v4h-3zM746 453h3v19h-3zM754 442h3v10h-3zM762 439h3v2h-3zM770 440h3v5h-3zM794 445h3v4h-3zM818 495h3v23h-3zM826 488h3v5h-3zM858 521h3v4h-3zM874 500h3v20h-3zM882 487h3v12h-3zM890 478h3v9h-3zM898 443h3v33h-3zM906 441h3v1h-3zM922 436h3v11h-3zM930 425h3v10h-3zM938 421h3v3h-3zM962 452h3v6h-3zM978 455h3v9h-3zM1010 509h3v4h-3zM1026 503h3v12h-3zM1034 495h3v7h-3zM1042 462h3v32h-3zM1058 464h3v7h-3zM1066 455h3v8h-3zM1082 435h3v19h-3zM1098 424h3v15h-3zM1114 413h3v11h-3zM1122 409h3v3h-3zM1130 405h3v2h-3zM1146 412h3v3h-3zM1154 405h3v6h-3zM1162 377h3v26h-3zM1178 402h3v1h-3zM1186 398h3v2h-3zM1194 384h3v12h-3zM1202 376h3v7h-3zM1210 346h3v29h-3zM1218 317h3v29h-3zM1226 299h3v17h-3zM1234 288h3v10h-3zM1242 248h3v38h-3zM1258 198h3v30h-3zM1274 183h3v24h-3zM1282 178h3v4h-3zM1290 158h3v19h-3zM1298 154h3v3h-3zM1306 142h3v11h-3zM1330 157h3v32h-3zM1338 146h3v9h-3zM1362 138h3v14h-3zM1378 124h3v27h-3zM1386 112h3v10h-3zM1394 84h3v27h-3zM1434 108h3v20h-3z" fill="#fff"/>
</g>
<rect x="156.5" y="349.5" width="61" height="18" fill="#fff" stroke="#ff0000" stroke-width="1"/>
<text x="159" y="365" font-size="16.6" fill="#ff0000" textLength="57.5" lengthAdjust="spacingAndGlyphs">116.327</text>
<rect x="218" y="358" width="9" height="1" fill="#ff0000"/>
<rect x="620.5" y="559.5" width="61" height="18" fill="#fff" stroke="#ff0000" stroke-width="1"/>
<text x="623" y="575" font-size="16.6" fill="#ff0000" textLength="57.5" lengthAdjust="spacingAndGlyphs">114.398</text>
<rect x="682" y="568" width="9" height="1" fill="#ff0000"/>
<rect x="932.5" y="533.5" width="61" height="18" fill="#fff" stroke="#ff0000" stroke-width="1"/>
<text x="935" y="549" font-size="16.6" fill="#ff0000" textLength="57.5" lengthAdjust="spacingAndGlyphs">114.638</text>
<rect x="994" y="542" width="9" height="1" fill="#ff0000"/>
<rect x="1316.5" y="47.5" width="61" height="18" fill="#fff" stroke="#ff0000" stroke-width="1"/>
<text x="1319" y="63" font-size="16.6" fill="#ff0000" textLength="57.5" lengthAdjust="spacingAndGlyphs">119.106</text>
<rect x="1378" y="56" width="9" height="1" fill="#ff0000"/>
<rect x="1188" y="122" width="10" height="1" fill="#ff0000"/>
<rect x="1198.5" y="110.5" width="73" height="24" fill="#fff" stroke="#ff0000" stroke-width="1"/>
<text x="1199.4" y="131" font-size="23.6" fill="#ff0000" textLength="71" lengthAdjust="spacingAndGlyphs">118.503</text>
<path d="M3 709h1V712h-1zM11 711h1V712h-1zM19 708h1V712h-1zM27 708h1V712h-1zM35 702h1V712h-1zM43 697h1V712h-1zM51 695h1V712h-1zM59 692h1V712h-1zM67 690h1V712h-1zM75 694h1V712h-1zM83 695h1V712h-1zM91 696h1V712h-1zM99 697h1V712h-1zM107 694h1V712h-1zM115 690h1V712h-1zM123 690h1V712h-1zM131 686h1V712h-1zM139 683h1V712h-1zM147 682h1V712h-1zM155 683h1V712h-1zM163 685h1V712h-1zM171 686h1V712h-1zM179 686h1V712h-1zM187 687h1V712h-1zM195 686h1V712h-1zM203 686h1V712h-1zM211 686h1V712h-1zM219 684h1V712h-1zM227 679h1V712h-1zM235 677h1V712h-1zM243 673h1V712h-1zM251 670h1V712h-1zM259 670h1V712h-1zM267 670h1V712h-1zM275 673h1V712h-1zM283 684h1V712h-1zM291 688h1V712h-1zM299 693h1V712h-1zM307 699h1V712h-1zM315 706h1V712h-1zM323 707h1V712h-1zM331 706h1V712h-1zM339 707h1V712h-1zM347 710h1V712h-1zM355 711h1v1h-1zM363 711h1v1h-1zM371 708h1V712h-1zM379 708h1V712h-1zM387 708h1V712h-1zM395 706h1V712h-1zM403 706h1V712h-1zM411 706h1V712h-1zM419 709h1V712h-1zM427 711h1v1h-1zM435 711h1V713h-1zM443 711h1V718h-1zM451 711h1V721h-1zM459 711h1V725h-1zM467 711h1V730h-1zM475 711h1V735h-1zM483 711h1V738h-1zM491 711h1V737h-1zM499 711h1V737h-1zM507 711h1V735h-1zM515 711h1V733h-1zM523 711h1V734h-1zM531 711h1V735h-1zM539 711h1V736h-1zM547 711h1V736h-1zM555 711h1V737h-1zM563 711h1V737h-1zM571 711h1V739h-1zM579 711h1V743h-1zM587 711h1V744h-1zM595 711h1V743h-1zM603 711h1V738h-1zM611 711h1V733h-1zM619 711h1V729h-1zM627 711h1V727h-1zM635 711h1V724h-1zM643 711h1V721h-1zM651 711h1V719h-1zM659 711h1V718h-1zM667 711h1V718h-1zM675 711h1V719h-1zM683 711h1V723h-1zM691 711h1V727h-1zM699 711h1V727h-1zM707 711h1V715h-1zM715 706h1V712h-1zM723 701h1V712h-1zM731 701h1V712h-1zM739 700h1V712h-1zM747 696h1V712h-1zM755 693h1V712h-1zM763 691h1V712h-1zM771 689h1V712h-1zM779 689h1V712h-1zM787 689h1V712h-1zM795 689h1V712h-1zM803 695h1V712h-1zM811 702h1V712h-1zM819 706h1V712h-1zM827 709h1V712h-1zM835 711h1v1h-1zM843 711h1V717h-1zM851 711h1V721h-1zM859 711h1V723h-1zM867 711h1V727h-1zM875 711h1V724h-1zM883 711h1V723h-1zM891 711h1V718h-1zM899 711h1v1h-1zM907 707h1V712h-1zM915 704h1V712h-1zM923 699h1V712h-1zM931 695h1V712h-1zM939 691h1V712h-1zM947 689h1V712h-1zM955 692h1V712h-1zM963 692h1V712h-1zM971 696h1V712h-1zM979 698h1V712h-1zM987 700h1V712h-1zM995 710h1V712h-1zM1003 711h1V715h-1zM1011 711h1V719h-1zM1019 711h1V723h-1zM1027 711h1V724h-1zM1035 711h1V724h-1zM1043 711h1V719h-1zM1051 711h1V717h-1zM1059 711h1V714h-1zM1067 711h1v1h-1zM1075 710h1V712h-1zM1083 706h1V712h-1zM1091 702h1V712h-1zM1099 698h1V712h-1zM1107 695h1V712h-1zM1115 691h1V712h-1zM1123 688h1V712h-1zM1131 685h1V712h-1zM1139 685h1V712h-1zM1147 684h1V712h-1zM1155 682h1V712h-1zM1163 679h1V712h-1zM1171 680h1V712h-1zM1179 680h1V712h-1zM1187 680h1V712h-1zM1195 680h1V712h-1zM1203 677h1V712h-1zM1211 672h1V712h-1zM1219 665h1V712h-1zM1227 658h1V712h-1zM1235 651h1V712h-1zM1243 642h1V712h-1zM1251 632h1V712h-1zM1259 622h1V712h-1zM1267 616h1V712h-1zM1275 609h1V712h-1zM1283 604h1V712h-1zM1291 599h1V712h-1zM1299 596h1V712h-1zM1307 593h1V712h-1zM1315 597h1V712h-1zM1323 602h1V712h-1zM1331 605h1V712h-1zM1339 606h1V712h-1zM1347 607h1V712h-1zM1355 611h1V712h-1zM1363 613h1V712h-1zM1371 618h1V712h-1zM1379 619h1V712h-1zM1387 619h1V712h-1zM1395 617h1V712h-1zM1403 616h1V712h-1zM1411 621h1V712h-1zM1419 626h1V712h-1zM1427 631h1V712h-1zM1435 635h1V712h-1zM1443 639h1V712h-1z" fill="#c0c0c0" shape-rendering="crispEdges"/>
<path d="M0 727h2v1h-2zM6 725h3v1h-3zM13 723h2v1h-2zM18 722h2v1h-2zM24 719h2v1h-2zM31 716h2v1h-2zM36 714h2v1h-2zM43 711h2v1h-2zM48 709h2v1h-2zM55 706h2v1h-2zM60 704h2v1h-2zM66 701h3v1h-3zM73 699h2v1h-2zM79 697h2v1h-2zM84 696h3v1h-3zM90 695h2v1h-2zM96 694h2v1h-2zM102 693h3v1h-3zM108 693h3v1h-3zM114 692h3v1h-3zM120 692h3v1h-3zM126 692h3v1h-3zM133 691h2v1h-2zM138 691h3v1h-3zM144 690h3v1h-3zM150 689h3v1h-3zM156 688h3v1h-3zM162 687h2v1h-2zM169 685h2v1h-2zM174 685h3v1h-3zM180 684h3v1h-3zM186 684h3v1h-3zM192 684h3v1h-3zM198 684h3v1h-3zM204 684h3v1h-3zM210 684h3v1h-3zM216 684h3v1h-3zM222 684h3v1h-3zM228 684h3v1h-3zM235 682h2v1h-2zM240 681h3v1h-3zM246 680h3v1h-3zM252 679h3v1h-3zM258 678h3v1h-3zM264 676h3v1h-3zM271 674h2v1h-2zM276 673h3v1h-3zM282 673h2v1h-2zM288 674h3v1h-3zM294 675h2v1h-2zM300 677h2v1h-2zM306 680h2v1h-2zM313 683h2v1h-2zM318 685h2v1h-2zM325 689h2v1h-2zM330 691h2v1h-2zM336 694h2v1h-2zM343 697h2v1h-2zM348 699h2v1h-2zM355 702h2v1h-2zM361 705h2v1h-2zM366 706h3v1h-3zM372 707h3v1h-3zM378 707h3v1h-3zM384 708h3v1h-3zM390 708h3v1h-3zM396 708h3v1h-3zM402 707h3v1h-3zM408 707h3v1h-3zM414 707h3v1h-3zM420 707h3v1h-3zM426 707h3v1h-3zM432 707h2v1h-2zM438 708h3v1h-3zM445 709h2v1h-2zM450 709h3v1h-3zM457 712h2v1h-2zM463 714h2v1h-2zM468 715h3v1h-3zM475 718h2v1h-2zM480 721h2v1h-2zM486 724h2v1h-2zM492 726h2v1h-2zM499 728h2v1h-2zM504 730h3v1h-3zM511 732h2v1h-2zM516 733h3v1h-3zM522 734h3v1h-3zM528 735h3v1h-3zM534 736h3v1h-3zM540 736h3v1h-3zM546 736h3v1h-3zM552 736h3v1h-3zM558 736h3v1h-3zM564 736h3v1h-3zM570 736h3v1h-3zM577 737h2v1h-2zM583 738h2v1h-2zM588 738h3v1h-3zM594 739h3v1h-3zM600 739h3v1h-3zM606 739h2v1h-2zM612 740h3v1h-3zM618 739h3v1h-3zM624 738h3v1h-3zM630 737h3v1h-3zM637 735h2v1h-2zM642 734h3v1h-3zM649 732h2v1h-2zM655 730h2v1h-2zM661 728h2v1h-2zM667 726h2v1h-2zM672 724h3v1h-3zM678 723h3v1h-3zM685 722h2v1h-2zM690 722h3v1h-3zM696 721h3v1h-3zM702 721h2v1h-2zM708 720h3v1h-3zM714 719h3v1h-3zM720 718h2v1h-2zM727 716h2v1h-2zM732 715h3v1h-3zM738 713h3v1h-3zM745 711h2v1h-2zM751 709h2v1h-2zM756 707h2v1h-2zM762 703h2v1h-2zM769 699h2v1h-2zM775 696h2v1h-2zM780 695h3v1h-3zM787 693h2v1h-2zM792 692h2v1h-2zM798 691h3v1h-3zM804 690h3v1h-3zM810 691h3v1h-3zM816 692h3v1h-3zM823 693h2v1h-2zM828 694h3v1h-3zM834 695h2v1h-2zM841 698h2v1h-2zM847 701h2v1h-2zM853 704h2v1h-2zM859 707h2v1h-2zM864 710h2v1h-2zM870 713h2v1h-2zM876 716h2v1h-2zM882 718h3v1h-3zM888 719h2v1h-2zM894 720h3v1h-3zM900 720h3v1h-3zM906 719h3v1h-3zM913 717h2v1h-2zM918 716h3v1h-3zM924 714h2v1h-2zM930 711h2v1h-2zM936 708h3v1h-3zM949 702h2v1h-2zM955 699h2v1h-2zM961 696h2v1h-2zM966 695h3v1h-3zM972 694h3v1h-3zM978 693h3v1h-3zM984 693h3v1h-3zM991 694h2v1h-2zM996 695h3v1h-3zM1003 697h2v1h-2zM1008 699h3v1h-3zM1014 701h2v1h-2zM1020 704h2v1h-2zM1026 707h2v1h-2zM1032 710h2v1h-2zM1039 714h2v1h-2zM1044 715h2v1h-2zM1050 717h3v1h-3zM1056 718h2v1h-2zM1062 719h3v1h-3zM1068 719h3v1h-3zM1074 719h3v1h-3zM1080 718h2v1h-2zM1086 716h3v1h-3zM1092 714h2v1h-2zM1099 710h2v1h-2zM1104 708h3v1h-3zM1110 706h2v1h-2zM1117 703h2v1h-2zM1123 700h2v1h-2zM1129 697h2v1h-2zM1135 695h2v1h-2zM1141 693h2v1h-2zM1146 691h3v1h-3zM1152 689h2v1h-2zM1158 687h3v1h-3zM1164 686h2v1h-2zM1170 684h3v1h-3zM1176 683h2v1h-2zM1182 682h2v1h-2zM1188 681h3v1h-3zM1194 680h3v1h-3zM1200 679h3v1h-3zM1207 678h2v1h-2zM1213 677h2v1h-2zM1218 676h2v1h-2zM1224 673h2v1h-2zM1230 671h2v1h-2zM1237 668h2v1h-2zM1243 665h2v1h-2zM1249 662h2v1h-2zM1260 652h2v1h-2zM1297 619h2v1h-2zM1302 615h2v1h-2zM1314 607h2v1h-2zM1320 604h2v1h-2zM1326 602h3v1h-3zM1333 600h2v1h-2zM1338 600h3v1h-3zM1344 600h3v1h-3zM1350 600h3v1h-3zM1356 601h3v1h-3zM1363 602h2v1h-2zM1368 603h3v1h-3zM1374 605h3v1h-3zM1380 606h3v1h-3zM1386 608h3v1h-3zM1392 609h2v1h-2zM1399 611h2v1h-2zM1404 612h2v1h-2zM1410 614h3v1h-3zM1416 615h2v1h-2zM1422 617h3v1h-3zM1428 619h3v1h-3zM1435 621h2v1h-2zM1440 623h2v1h-2zM2 726h1v1h-1zM12 724h1v1h-1zM20 721h1v1h-1zM26 718h1v1h-1zM30 717h1v1h-1zM38 713h1v1h-1zM42 712h1v1h-1zM50 708h1v1h-1zM54 707h1v1h-1zM62 703h1v1h-1zM72 700h1v1h-1zM78 698h1v1h-1zM92 694h1v1h-1zM98 693h1v1h-1zM132 692h1v1h-1zM164 686h1v1h-1zM168 686h1v1h-1zM234 683h1v1h-1zM270 675h1v1h-1zM284 674h1v1h-1zM296 676h1v1h-1zM302 678h1v1h-1zM308 681h1v1h-1zM312 682h1v1h-1zM320 686h1v1h-1zM324 688h1v1h-1zM332 692h1v1h-1zM338 695h1v1h-1zM342 696h1v1h-1zM350 700h1v1h-1zM354 701h1v1h-1zM360 704h1v1h-1zM434 708h1v1h-1zM444 708h1v1h-1zM456 711h1v1h-1zM462 713h1v1h-1zM474 717h1v1h-1zM482 722h1v1h-1zM488 725h1v1h-1zM494 727h1v1h-1zM498 727h1v1h-1zM510 731h1v1h-1zM576 736h1v1h-1zM582 737h1v1h-1zM608 740h1v1h-1zM636 736h1v1h-1zM648 733h1v1h-1zM654 731h1v1h-1zM660 729h1v1h-1zM666 727h1v1h-1zM684 723h1v1h-1zM704 720h1v1h-1zM722 717h1v1h-1zM726 717h1v1h-1zM744 712h1v1h-1zM750 710h1v1h-1zM758 706h1v1h-1zM764 702h1v1h-1zM768 700h1v1h-1zM774 697h1v1h-1zM786 694h1v1h-1zM794 691h1v1h-1zM822 692h1v1h-1zM836 696h1v1h-1zM840 697h1v1h-1zM846 700h1v1h-1zM852 703h1v1h-1zM858 706h1v1h-1zM866 711h1v1h-1zM872 714h1v1h-1zM878 717h1v1h-1zM890 720h1v1h-1zM912 718h1v1h-1zM926 713h1v1h-1zM932 710h1v1h-1zM942 706h1v1h-1zM943 705h1v1h-1zM944 704h1v1h-1zM948 703h1v1h-1zM954 700h1v1h-1zM960 697h1v1h-1zM990 693h1v1h-1zM1002 696h1v1h-1zM1016 702h1v1h-1zM1022 705h1v1h-1zM1028 708h1v1h-1zM1034 711h1v1h-1zM1038 713h1v1h-1zM1046 716h1v1h-1zM1058 719h1v1h-1zM1082 717h1v1h-1zM1094 713h1v1h-1zM1098 711h1v1h-1zM1112 705h1v1h-1zM1116 704h1v1h-1zM1122 701h1v1h-1zM1128 698h1v1h-1zM1134 696h1v1h-1zM1140 694h1v1h-1zM1154 688h1v1h-1zM1166 685h1v1h-1zM1178 682h1v1h-1zM1184 681h1v1h-1zM1206 679h1v1h-1zM1212 678h1v1h-1zM1220 675h1v1h-1zM1226 672h1v1h-1zM1232 670h1v1h-1zM1236 669h1v1h-1zM1242 666h1v1h-1zM1248 663h1v1h-1zM1254 658h1v1h-1zM1255 657h1v1h-1zM1256 656h1v1h-1zM1262 651h1v1h-1zM1266 647h1v1h-1zM1267 646h1v1h-1zM1268 645h1v1h-1zM1272 642h1v1h-1zM1273 641h1v1h-1zM1274 640h1v1h-1zM1278 636h1v1h-1zM1279 635h1v1h-1zM1280 634h1v1h-1zM1284 631h1v1h-1zM1285 630h1v1h-1zM1286 629h1v1h-1zM1290 625h1v1h-1zM1291 624h1v1h-1zM1292 623h1v1h-1zM1296 620h1v1h-1zM1304 614h1v1h-1zM1308 611h1v1h-1zM1309 610h1v1h-1zM1310 609h1v1h-1zM1316 606h1v1h-1zM1322 603h1v1h-1zM1332 601h1v1h-1zM1362 601h1v1h-1zM1394 610h1v1h-1zM1398 610h1v1h-1zM1406 613h1v1h-1zM1418 616h1v1h-1zM1434 620h1v1h-1zM1442 624h1v1h-1z" fill="#ff0000" shape-rendering="crispEdges"/>
<path d="M2 791.5H1654" stroke="#c0c0c0" stroke-width="1" stroke-dasharray="3 3" shape-rendering="crispEdges"/>
<path d="M2 842.5H1654" stroke="#c0c0c0" stroke-width="1" stroke-dasharray="3 3" shape-rendering="crispEdges"/>
<path d="M2 903.5H1654" stroke="#c0c0c0" stroke-width="1" stroke-dasharray="3 3" shape-rendering="crispEdges"/>
<path d="M-5 829h3v1h-3zM-2 830h3v1h-3zM1 831h4v1h-4zM5 832h2v1h-2zM7 833h3v1h-3zM10 834h2v1h-2zM26 838h2v1h-2zM35 822h5v1h-5zM40 823h6v1h-6zM46 824h3v1h-3zM49 825h4v1h-4zM53 824h2v1h-2zM55 823h3v1h-3zM58 822h3v1h-3zM61 823h2v1h-2zM63 824h3v1h-3zM66 825h2v1h-2zM75 841h2v1h-2zM78 839h3v1h-3zM82 837h18v1h-18zM108 823h2v1h-2zM110 822h2v1h-2zM113 820h2v1h-2zM131 819h2v1h-2zM133 820h2v1h-2zM135 821h3v1h-3zM138 822h10v1h-10zM155 830h13v1h-13zM168 829h6v1h-6zM174 828h3v1h-3zM177 827h11v1h-11zM191 823h2v1h-2zM196 821h2v1h-2zM198 822h2v1h-2zM201 824h2v1h-2zM203 825h2v1h-2zM205 824h2v1h-2zM207 823h3v1h-3zM210 822h2v1h-2zM220 811h2v1h-2zM222 810h2v1h-2zM225 808h2v1h-2zM227 807h2v1h-2zM229 808h2v1h-2zM231 809h3v1h-3zM234 810h3v1h-3zM238 808h3v1h-3zM242 806h3v1h-3zM246 804h3v1h-3zM250 802h2v1h-2zM259 813h5v1h-5zM264 814h4v1h-4zM283 857h2v1h-2zM291 842h2v1h-2zM294 844h3v1h-3zM298 846h3v1h-3zM301 847h2v1h-2zM303 848h3v1h-3zM306 849h2v1h-2zM314 857h2v1h-2zM323 841h2v1h-2zM325 840h2v1h-2zM327 839h3v1h-3zM330 838h2v1h-2zM332 839h2v1h-2zM334 840h2v1h-2zM337 842h2v1h-2zM339 843h2v1h-2zM342 845h3v1h-3zM346 847h3v1h-3zM349 848h2v1h-2zM351 849h3v1h-3zM354 850h2v1h-2zM363 837h2v1h-2zM365 836h2v1h-2zM367 835h3v1h-3zM370 834h2v1h-2zM372 835h2v1h-2zM374 836h2v1h-2zM377 838h2v1h-2zM379 839h10v1h-10zM389 838h2v1h-2zM391 837h3v1h-3zM394 836h3v1h-3zM397 837h2v1h-2zM399 838h3v1h-3zM402 839h4v1h-4zM406 838h3v1h-3zM409 837h3v1h-3zM419 849h3v1h-3zM422 850h3v1h-3zM425 851h11v1h-11zM447 857h2v1h-2zM460 863h2v1h-2zM462 864h2v1h-2zM465 866h2v1h-2zM467 867h2v1h-2zM469 868h2v1h-2zM471 869h3v1h-3zM474 870h10v1h-10zM491 853h5v1h-5zM496 854h5v1h-5zM501 853h2v1h-2zM503 852h3v1h-3zM506 851h6v1h-6zM512 852h5v1h-5zM518 854h3v1h-3zM522 856h2v1h-2zM524 857h2v1h-2zM526 858h2v1h-2zM529 860h2v1h-2zM531 861h5v1h-5zM536 862h8v1h-8zM544 863h5v1h-5zM549 864h2v1h-2zM551 865h3v1h-3zM554 866h6v1h-6zM560 867h5v1h-5zM566 869h3v1h-3zM570 871h2v1h-2zM579 879h5v1h-5zM584 878h4v1h-4zM603 840h3v1h-3zM606 841h3v1h-3zM609 842h7v1h-7zM616 841h6v1h-6zM622 840h3v1h-3zM625 839h3v1h-3zM629 841h2v1h-2zM632 843h2v1h-2zM635 845h2v1h-2zM638 843h3v1h-3zM642 841h4v1h-4zM646 840h3v1h-3zM649 839h3v1h-3zM652 840h2v1h-2zM654 841h2v1h-2zM657 843h2v1h-2zM660 845h2v1h-2zM662 846h2v1h-2zM665 848h2v1h-2zM668 850h2v1h-2zM670 851h2v1h-2zM673 853h2v1h-2zM683 867h2v1h-2zM685 868h2v1h-2zM687 869h3v1h-3zM690 870h2v1h-2zM707 815h3v1h-3zM710 814h3v1h-3zM713 813h3v1h-3zM719 817h2v1h-2zM731 837h3v1h-3zM734 836h3v1h-3zM737 835h3v1h-3zM743 831h2v1h-2zM747 828h2v1h-2zM750 826h3v1h-3zM754 824h6v1h-6zM760 823h8v1h-8zM768 824h5v1h-5zM774 826h3v1h-3zM778 828h6v1h-6zM784 829h6v1h-6zM790 828h3v1h-3zM793 827h3v1h-3zM819 849h2v1h-2zM821 848h2v1h-2zM823 847h3v1h-3zM826 846h2v1h-2zM828 847h2v1h-2zM830 848h2v1h-2zM833 850h2v1h-2zM843 860h10v1h-10zM853 859h2v1h-2zM855 858h3v1h-3zM858 857h6v1h-6zM864 858h4v1h-4zM877 843h2v1h-2zM880 841h2v1h-2zM883 839h2v1h-2zM886 837h3v1h-3zM890 835h2v1h-2zM899 823h5v1h-5zM904 822h5v1h-5zM910 824h3v1h-3zM914 826h2v1h-2zM916 825h2v1h-2zM918 824h2v1h-2zM921 822h2v1h-2zM923 821h2v1h-2zM925 820h2v1h-2zM927 819h3v1h-3zM930 818h4v1h-4zM934 817h3v1h-3zM937 816h3v1h-3zM955 838h2v1h-2zM957 837h2v1h-2zM959 836h3v1h-3zM962 835h2v1h-2zM967 839h2v1h-2zM972 841h2v1h-2zM974 840h2v1h-2zM977 838h2v1h-2zM979 837h2v1h-2zM982 839h3v1h-3zM986 841h2v1h-2zM995 865h3v1h-3zM998 866h3v1h-3zM1001 867h3v1h-3zM1011 856h2v1h-2zM1013 857h2v1h-2zM1015 858h3v1h-3zM1018 859h2v1h-2zM1023 855h2v1h-2zM1027 852h2v1h-2zM1029 851h2v1h-2zM1031 850h3v1h-3zM1034 849h2v1h-2zM1043 835h2v1h-2zM1046 837h3v1h-3zM1050 839h3v1h-3zM1053 838h2v1h-2zM1055 837h3v1h-3zM1058 836h3v1h-3zM1062 834h3v1h-3zM1066 832h6v1h-6zM1072 833h4v1h-4zM1083 825h3v1h-3zM1086 826h3v1h-3zM1089 827h3v1h-3zM1093 825h2v1h-2zM1096 823h2v1h-2zM1099 821h5v1h-5zM1104 822h5v1h-5zM1110 820h3v1h-3zM1114 818h4v1h-4zM1118 817h3v1h-3zM1121 816h5v1h-5zM1126 815h3v1h-3zM1129 814h3v1h-3zM1139 823h3v1h-3zM1142 822h3v1h-3zM1145 821h4v1h-4zM1149 820h2v1h-2zM1151 819h3v1h-3zM1154 818h2v1h-2zM1162 808h2v1h-2zM1171 825h11v1h-11zM1182 824h3v1h-3zM1185 823h3v1h-3zM1189 821h2v1h-2zM1192 819h2v1h-2zM1195 817h2v1h-2zM1197 816h2v1h-2zM1199 815h3v1h-3zM1202 814h2v1h-2zM1219 797h2v1h-2zM1221 796h2v1h-2zM1223 795h3v1h-3zM1226 794h3v1h-3zM1229 793h2v1h-2zM1231 792h3v1h-3zM1234 791h2v1h-2zM1237 789h2v1h-2zM1240 787h2v1h-2zM1243 785h3v1h-3zM1246 784h3v1h-3zM1249 783h4v1h-4zM1254 781h3v1h-3zM1258 779h2v1h-2zM1263 783h2v1h-2zM1267 786h2v1h-2zM1269 785h2v1h-2zM1271 784h3v1h-3zM1274 783h11v1h-11zM1285 782h2v1h-2zM1287 781h3v1h-3zM1290 780h14v1h-14zM1304 779h4v1h-4zM1316 803h2v1h-2zM1318 804h2v1h-2zM1321 806h2v1h-2zM1325 805h2v1h-2zM1328 803h2v1h-2zM1331 801h3v1h-3zM1334 800h3v1h-3zM1337 799h7v1h-7zM1344 798h4v1h-4zM1349 800h2v1h-2zM1352 802h2v1h-2zM1355 804h2v1h-2zM1358 802h3v1h-3zM1362 800h2v1h-2zM1375 805h2v1h-2zM1379 802h3v1h-3zM1382 801h3v1h-3zM1385 800h3v1h-3zM1389 798h2v1h-2zM1392 796h2v1h-2zM1403 805h3v1h-3zM1406 806h3v1h-3zM1409 807h4v1h-4zM1413 808h2v1h-2zM1415 809h3v1h-3zM1418 810h2v1h-2zM1431 817h2v1h-2zM1435 814h5v1h-5zM1440 815h4v1h-4zM12 833h1v1h-1zM13 832h1v1h-1zM14 831h1v1h-1zM15 829h1v2h-1zM16 828h1v1h-1zM17 827h1v1h-1zM18 826h1v1h-1zM19 825h1v1h-1zM20 826h1v2h-1zM21 828h1v2h-1zM22 830h1v2h-1zM23 832h1v1h-1zM24 833h1v2h-1zM25 835h1v2h-1zM26 837h1v1h-1zM27 839h1v1h-1zM28 836h1v2h-1zM29 834h1v2h-1zM30 832h1v2h-1zM31 830h1v2h-1zM32 828h1v2h-1zM33 826h1v2h-1zM34 824h1v2h-1zM35 823h1v1h-1zM67 826h1v1h-1zM68 827h1v1h-1zM69 828h1v3h-1zM70 831h1v1h-1zM71 832h1v3h-1zM72 835h1v1h-1zM73 836h1v3h-1zM74 839h1v1h-1zM75 840h1v1h-1zM77 840h1v1h-1zM81 838h1v1h-1zM100 835h1v2h-1zM101 833h1v2h-1zM102 832h1v1h-1zM103 830h1v2h-1zM104 829h1v1h-1zM105 827h1v2h-1zM106 825h1v2h-1zM107 824h1v1h-1zM112 821h1v1h-1zM115 819h1v1h-1zM116 820h1v1h-1zM117 821h1v2h-1zM118 823h1v1h-1zM119 824h1v1h-1zM120 825h1v1h-1zM121 826h1v2h-1zM122 828h1v1h-1zM123 829h1v1h-1zM124 828h1v1h-1zM125 826h1v2h-1zM126 825h1v1h-1zM127 824h1v1h-1zM128 823h1v1h-1zM129 821h1v2h-1zM130 820h1v1h-1zM148 823h1v1h-1zM149 824h1v1h-1zM150 825h1v1h-1zM151 826h1v1h-1zM152 827h1v1h-1zM153 828h1v1h-1zM154 829h1v1h-1zM188 826h1v1h-1zM189 825h1v1h-1zM190 824h1v1h-1zM193 822h1v1h-1zM194 821h1v1h-1zM195 820h1v1h-1zM200 823h1v1h-1zM212 821h1v1h-1zM213 819h1v2h-1zM214 818h1v1h-1zM215 817h1v1h-1zM216 816h1v1h-1zM217 814h1v2h-1zM218 813h1v1h-1zM219 812h1v1h-1zM224 809h1v1h-1zM237 809h1v1h-1zM241 807h1v1h-1zM245 805h1v1h-1zM249 803h1v1h-1zM252 803h1v2h-1zM253 805h1v1h-1zM254 806h1v1h-1zM255 807h1v2h-1zM256 809h1v1h-1zM257 810h1v1h-1zM258 811h1v2h-1zM268 815h1v1h-1zM269 816h1v2h-1zM270 818h1v1h-1zM271 819h1v1h-1zM272 820h1v1h-1zM273 821h1v2h-1zM274 823h1v1h-1zM275 824h1v3h-1zM276 827h1v4h-1zM277 831h1v4h-1zM278 835h1v5h-1zM279 840h1v4h-1zM280 844h1v5h-1zM281 849h1v4h-1zM282 853h1v4h-1zM283 858h1v2h-1zM284 856h1v1h-1zM285 854h1v2h-1zM286 852h1v2h-1zM287 850h1v2h-1zM288 848h1v2h-1zM289 846h1v2h-1zM290 844h1v2h-1zM291 843h1v1h-1zM293 843h1v1h-1zM297 845h1v1h-1zM308 850h1v1h-1zM309 851h1v1h-1zM310 852h1v1h-1zM311 853h1v2h-1zM312 855h1v1h-1zM313 856h1v1h-1zM315 858h1v1h-1zM316 855h1v2h-1zM317 853h1v2h-1zM318 851h1v2h-1zM319 849h1v2h-1zM320 847h1v2h-1zM321 845h1v2h-1zM322 843h1v2h-1zM323 842h1v1h-1zM336 841h1v1h-1zM341 844h1v1h-1zM345 846h1v1h-1zM356 848h1v2h-1zM357 846h1v2h-1zM358 845h1v1h-1zM359 843h1v2h-1zM360 842h1v1h-1zM361 840h1v2h-1zM362 838h1v2h-1zM376 837h1v1h-1zM412 838h1v2h-1zM413 840h1v1h-1zM414 841h1v2h-1zM415 843h1v1h-1zM416 844h1v2h-1zM417 846h1v1h-1zM418 847h1v2h-1zM436 852h1v1h-1zM437 853h1v2h-1zM438 855h1v1h-1zM439 856h1v1h-1zM440 857h1v1h-1zM441 858h1v2h-1zM442 860h1v1h-1zM443 861h1v1h-1zM444 860h1v1h-1zM445 859h1v1h-1zM446 858h1v1h-1zM449 856h1v1h-1zM450 855h1v1h-1zM451 854h1v1h-1zM452 855h1v1h-1zM453 856h1v1h-1zM454 857h1v1h-1zM455 858h1v1h-1zM456 859h1v1h-1zM457 860h1v1h-1zM458 861h1v1h-1zM459 862h1v1h-1zM464 865h1v1h-1zM483 869h1v1h-1zM484 867h1v2h-1zM485 865h1v2h-1zM486 863h1v2h-1zM487 861h1v2h-1zM488 859h1v2h-1zM489 857h1v2h-1zM490 855h1v2h-1zM491 854h1v1h-1zM517 853h1v1h-1zM521 855h1v1h-1zM528 859h1v1h-1zM565 868h1v1h-1zM569 870h1v1h-1zM572 872h1v1h-1zM573 873h1v1h-1zM574 874h1v1h-1zM575 875h1v1h-1zM576 876h1v1h-1zM577 877h1v1h-1zM578 878h1v1h-1zM588 876h1v2h-1zM589 874h1v2h-1zM590 872h1v2h-1zM591 871h1v1h-1zM592 869h1v2h-1zM593 867h1v2h-1zM594 865h1v2h-1zM595 863h1v2h-1zM596 860h1v3h-1zM597 857h1v3h-1zM598 854h1v3h-1zM599 851h1v3h-1zM600 848h1v3h-1zM601 845h1v3h-1zM602 842h1v3h-1zM603 841h1v1h-1zM628 840h1v1h-1zM631 842h1v1h-1zM634 844h1v1h-1zM637 844h1v1h-1zM641 842h1v1h-1zM656 842h1v1h-1zM659 844h1v1h-1zM664 847h1v1h-1zM667 849h1v1h-1zM672 852h1v1h-1zM675 854h1v1h-1zM676 855h1v2h-1zM677 857h1v2h-1zM678 859h1v1h-1zM679 860h1v2h-1zM680 862h1v1h-1zM681 863h1v2h-1zM682 865h1v2h-1zM692 868h1v2h-1zM693 866h1v2h-1zM694 864h1v2h-1zM695 862h1v2h-1zM696 860h1v2h-1zM697 858h1v2h-1zM698 856h1v2h-1zM699 853h1v3h-1zM700 848h1v5h-1zM701 843h1v5h-1zM702 838h1v5h-1zM703 833h1v5h-1zM704 828h1v5h-1zM705 823h1v5h-1zM706 818h1v5h-1zM707 816h1v2h-1zM716 814h1v1h-1zM717 815h1v1h-1zM718 816h1v1h-1zM721 818h1v1h-1zM722 819h1v1h-1zM723 820h1v2h-1zM724 822h1v2h-1zM725 824h1v2h-1zM726 826h1v2h-1zM727 828h1v2h-1zM728 830h1v2h-1zM729 832h1v2h-1zM730 834h1v2h-1zM731 836h1v1h-1zM740 834h1v1h-1zM741 833h1v1h-1zM742 832h1v1h-1zM745 830h1v1h-1zM746 829h1v1h-1zM749 827h1v1h-1zM753 825h1v1h-1zM773 825h1v1h-1zM777 827h1v1h-1zM795 828h1v1h-1zM796 829h1v3h-1zM797 832h1v2h-1zM798 834h1v3h-1zM799 837h1v3h-1zM800 840h1v3h-1zM801 843h1v2h-1zM802 845h1v3h-1zM803 848h1v2h-1zM804 850h1v2h-1zM805 852h1v1h-1zM806 853h1v2h-1zM807 855h1v1h-1zM808 856h1v2h-1zM809 858h1v1h-1zM810 859h1v2h-1zM811 861h1v1h-1zM812 859h1v2h-1zM813 858h1v1h-1zM814 856h1v2h-1zM815 855h1v1h-1zM816 853h1v2h-1zM817 852h1v1h-1zM818 850h1v2h-1zM832 849h1v1h-1zM835 851h1v1h-1zM836 852h1v1h-1zM837 853h1v1h-1zM838 854h1v1h-1zM839 855h1v2h-1zM840 857h1v1h-1zM841 858h1v1h-1zM842 859h1v1h-1zM868 856h1v2h-1zM869 854h1v2h-1zM870 853h1v1h-1zM871 851h1v2h-1zM872 850h1v1h-1zM873 848h1v2h-1zM874 846h1v2h-1zM875 845h1v1h-1zM876 844h1v1h-1zM879 842h1v1h-1zM882 840h1v1h-1zM885 838h1v1h-1zM889 836h1v1h-1zM892 833h1v2h-1zM893 832h1v1h-1zM894 830h1v2h-1zM895 829h1v1h-1zM896 827h1v2h-1zM897 826h1v1h-1zM898 824h1v2h-1zM909 823h1v1h-1zM913 825h1v1h-1zM920 823h1v1h-1zM940 817h1v1h-1zM941 818h1v1h-1zM942 819h1v1h-1zM943 820h1v2h-1zM944 822h1v1h-1zM945 823h1v1h-1zM946 824h1v1h-1zM947 825h1v1h-1zM948 826h1v2h-1zM949 828h1v2h-1zM950 830h1v1h-1zM951 831h1v2h-1zM952 833h1v1h-1zM953 834h1v2h-1zM954 836h1v2h-1zM964 836h1v1h-1zM965 837h1v1h-1zM966 838h1v1h-1zM969 840h1v1h-1zM970 841h1v1h-1zM971 842h1v1h-1zM976 839h1v1h-1zM981 838h1v1h-1zM985 840h1v1h-1zM987 842h1v1h-1zM988 843h1v3h-1zM989 846h1v3h-1zM990 849h1v3h-1zM991 852h1v3h-1zM992 855h1v3h-1zM993 858h1v3h-1zM994 861h1v3h-1zM995 864h1v1h-1zM1004 865h1v2h-1zM1005 864h1v1h-1zM1006 863h1v1h-1zM1007 861h1v2h-1zM1008 860h1v1h-1zM1009 859h1v1h-1zM1010 857h1v2h-1zM1020 858h1v1h-1zM1021 857h1v1h-1zM1022 856h1v1h-1zM1025 854h1v1h-1zM1026 853h1v1h-1zM1036 847h1v2h-1zM1037 845h1v2h-1zM1038 843h1v2h-1zM1039 842h1v1h-1zM1040 840h1v2h-1zM1041 838h1v2h-1zM1042 836h1v2h-1zM1045 836h1v1h-1zM1049 838h1v1h-1zM1061 835h1v1h-1zM1065 833h1v1h-1zM1076 832h1v1h-1zM1077 831h1v1h-1zM1078 830h1v1h-1zM1079 829h1v1h-1zM1080 828h1v1h-1zM1081 827h1v1h-1zM1082 826h1v1h-1zM1092 826h1v1h-1zM1095 824h1v1h-1zM1098 822h1v1h-1zM1109 821h1v1h-1zM1113 819h1v1h-1zM1132 815h1v1h-1zM1133 816h1v1h-1zM1134 817h1v1h-1zM1135 818h1v2h-1zM1136 820h1v1h-1zM1137 821h1v1h-1zM1138 822h1v1h-1zM1156 816h1v2h-1zM1157 815h1v1h-1zM1158 814h1v1h-1zM1159 812h1v2h-1zM1160 811h1v1h-1zM1161 810h1v1h-1zM1162 809h1v1h-1zM1163 807h1v1h-1zM1164 809h1v2h-1zM1165 811h1v2h-1zM1166 813h1v2h-1zM1167 815h1v3h-1zM1168 818h1v2h-1zM1169 820h1v2h-1zM1170 822h1v2h-1zM1171 824h1v1h-1zM1188 822h1v1h-1zM1191 820h1v1h-1zM1194 818h1v1h-1zM1204 813h1v1h-1zM1205 812h1v1h-1zM1206 811h1v1h-1zM1207 809h1v2h-1zM1208 808h1v1h-1zM1209 807h1v1h-1zM1210 806h1v1h-1zM1211 805h1v1h-1zM1212 804h1v1h-1zM1213 803h1v1h-1zM1214 802h1v1h-1zM1215 801h1v1h-1zM1216 800h1v1h-1zM1217 799h1v1h-1zM1218 798h1v1h-1zM1236 790h1v1h-1zM1239 788h1v1h-1zM1242 786h1v1h-1zM1253 782h1v1h-1zM1257 780h1v1h-1zM1260 780h1v1h-1zM1261 781h1v1h-1zM1262 782h1v1h-1zM1265 784h1v1h-1zM1266 785h1v1h-1zM1307 780h1v1h-1zM1308 781h1v3h-1zM1309 784h1v3h-1zM1310 787h1v3h-1zM1311 790h1v2h-1zM1312 792h1v3h-1zM1313 795h1v3h-1zM1314 798h1v3h-1zM1315 801h1v2h-1zM1320 805h1v1h-1zM1323 807h1v1h-1zM1324 806h1v1h-1zM1327 804h1v1h-1zM1330 802h1v1h-1zM1348 799h1v1h-1zM1351 801h1v1h-1zM1354 803h1v1h-1zM1357 803h1v1h-1zM1361 801h1v1h-1zM1364 801h1v1h-1zM1365 802h1v1h-1zM1366 803h1v1h-1zM1367 804h1v2h-1zM1368 806h1v1h-1zM1369 807h1v1h-1zM1370 808h1v1h-1zM1371 809h1v1h-1zM1372 808h1v1h-1zM1373 807h1v1h-1zM1374 806h1v1h-1zM1377 804h1v1h-1zM1378 803h1v1h-1zM1388 799h1v1h-1zM1391 797h1v1h-1zM1394 795h1v1h-1zM1395 794h1v1h-1zM1396 795h1v2h-1zM1397 797h1v1h-1zM1398 798h1v1h-1zM1399 799h1v2h-1zM1400 801h1v1h-1zM1401 802h1v1h-1zM1402 803h1v2h-1zM1420 811h1v2h-1zM1421 813h1v1h-1zM1422 814h1v1h-1zM1423 815h1v2h-1zM1424 817h1v1h-1zM1425 818h1v1h-1zM1426 819h1v2h-1zM1427 821h1v1h-1zM1428 820h1v1h-1zM1429 819h1v1h-1zM1430 818h1v1h-1zM1433 816h1v1h-1zM1434 815h1v1h-1z" fill="#1e90ff" shape-rendering="crispEdges"/>
<path d="M1187.8 387.8L1395.5 72.0" stroke="#ff0000" stroke-width="3.5" fill="none" stroke-linecap="butt" shape-rendering="crispEdges"/>
<path d="M1400.8 64.0L1398.3 76.2L1390.6 71.2z" fill="#ff0000" shape-rendering="crispEdges"/>
<path d="M1400.8 65.0L1442.7 129.0" stroke="#ff0000" stroke-width="3.5" fill="none" stroke-linecap="butt" shape-rendering="crispEdges"/>
<path d="M1448.0 137.0L1437.8 129.8L1445.5 124.8z" fill="#ff0000" shape-rendering="crispEdges"/>
<path d="M1447.0 136.0L1504.7 105.2" stroke="#ff0000" stroke-width="4.0" fill="none" stroke-linecap="butt" shape-rendering="crispEdges"/>
<path d="M1513.3 100.6L1505.1 110.2L1500.8 102.1z" fill="#ff0000" shape-rendering="crispEdges"/>
<path d="M1360.0 601.0L1453.1 634.3" stroke="#ff0000" stroke-width="3.4" fill="none" stroke-linecap="butt" shape-rendering="crispEdges"/>
<path d="M1462.0 637.5L1449.6 638.1L1452.8 629.1z" fill="#ff0000" shape-rendering="crispEdges"/>
<path d="M1370.0 794.5L1442.0 818.0" stroke="#ff0000" stroke-width="3.4" fill="none" stroke-linecap="butt" shape-rendering="crispEdges"/>
<path d="M1451.0 821.0L1438.6 822.0L1441.6 812.9z" fill="#ff0000" shape-rendering="crispEdges"/>
<rect x="0" y="28" width="1655" height="1" fill="#000"/>
<rect x="1654" y="28" width="1" height="902" fill="#000"/>
<rect x="0" y="581" width="1655" height="1" fill="#000"/>
<rect x="0" y="583" width="1655" height="1" fill="#000"/>
<rect x="0" y="753" width="1655" height="1" fill="#000"/>
<rect x="0" y="755" width="1655" height="1" fill="#000"/>
<rect x="0" y="929" width="1656" height="1" fill="#000"/>
<rect x="0" y="582" width="1654" height="1" fill="#fff"/>
<rect x="0" y="754" width="1654" height="1" fill="#fff"/>
<rect x="1655" y="50" width="2" height="1" fill="#000"/>
<text x="1660" y="54" font-size="9.6" fill="#000" textLength="32.5" lengthAdjust="spacingAndGlyphs" stroke="#000" stroke-width="0.22">119.160</text>
<rect x="1655" y="83" width="2" height="1" fill="#000"/>
<text x="1660" y="87" font-size="9.6" fill="#000" textLength="32.5" lengthAdjust="spacingAndGlyphs" stroke="#000" stroke-width="0.22">118.855</text>
<rect x="1655" y="116" width="2" height="1" fill="#000"/>
<text x="1660" y="120" font-size="9.6" fill="#000" textLength="32.5" lengthAdjust="spacingAndGlyphs" stroke="#000" stroke-width="0.22">118.550</text>
<rect x="1655" y="149" width="2" height="1" fill="#000"/>
<text x="1660" y="153" font-size="9.6" fill="#000" textLength="32.5" lengthAdjust="spacingAndGlyphs" stroke="#000" stroke-width="0.22">118.250</text>
<rect x="1655" y="182" width="2" height="1" fill="#000"/>
<text x="1660" y="186" font-size="9.6" fill="#000" textLength="32.5" lengthAdjust="spacingAndGlyphs" stroke="#000" stroke-width="0.22">117.945</text>
<rect x="1655" y="215" width="2" height="1" fill="#000"/>
<text x="1660" y="219" font-size="9.6" fill="#000" textLength="32.5" lengthAdjust="spacingAndGlyphs" stroke="#000" stroke-width="0.22">117.640</text>
<rect x="1655" y="248" width="2" height="1" fill="#000"/>
<text x="1660" y="252" font-size="9.6" fill="#000" textLength="32.5" lengthAdjust="spacingAndGlyphs" stroke="#000" stroke-width="0.22">117.335</text>
<rect x="1655" y="281" width="2" height="1" fill="#000"/>
<text x="1660" y="285" font-size="9.6" fill="#000" textLength="32.5" lengthAdjust="spacingAndGlyphs" stroke="#000" stroke-width="0.22">117.035</text>
<rect x="1655" y="314" width="2" height="1" fill="#000"/>
<text x="1660" y="318" font-size="9.6" fill="#000" textLength="32.5" lengthAdjust="spacingAndGlyphs" stroke="#000" stroke-width="0.22">116.730</text>
<rect x="1655" y="347" width="2" height="1" fill="#000"/>
<text x="1660" y="351" font-size="9.6" fill="#000" textLength="32.5" lengthAdjust="spacingAndGlyphs" stroke="#000" stroke-width="0.22">116.425</text>
<rect x="1655" y="380" width="2" height="1" fill="#000"/>
<text x="1660" y="384" font-size="9.6" fill="#000" textLength="32.5" lengthAdjust="spacingAndGlyphs" stroke="#000" stroke-width="0.22">116.125</text>
<rect x="1655" y="413" width="2" height="1" fill="#000"/>
<text x="1660" y="417" font-size="9.6" fill="#000" textLength="32.5" lengthAdjust="spacingAndGlyphs" stroke="#000" stroke-width="0.22">115.820</text>
<rect x="1655" y="446" width="2" height="1" fill="#000"/>
<text x="1660" y="450" font-size="9.6" fill="#000" textLength="32.5" lengthAdjust="spacingAndGlyphs" stroke="#000" stroke-width="0.22">115.515</text>
<rect x="1655" y="479" width="2" height="1" fill="#000"/>
<text x="1660" y="483" font-size="9.6" fill="#000" textLength="32.5" lengthAdjust="spacingAndGlyphs" stroke="#000" stroke-width="0.22">115.210</text>
<rect x="1655" y="512" width="2" height="1" fill="#000"/>
<text x="1660" y="516" font-size="9.6" fill="#000" textLength="32.5" lengthAdjust="spacingAndGlyphs" stroke="#000" stroke-width="0.22">114.910</text>
<rect x="1655" y="545" width="2" height="1" fill="#000"/>
<text x="1660" y="549" font-size="9.6" fill="#000" textLength="32.5" lengthAdjust="spacingAndGlyphs" stroke="#000" stroke-width="0.22">114.605</text>
<rect x="1655" y="578" width="2" height="1" fill="#000"/>
<text x="1660" y="582" font-size="9.6" fill="#000" textLength="32.5" lengthAdjust="spacingAndGlyphs" stroke="#000" stroke-width="0.22">114.300</text>
<rect x="1656" y="37" width="41" height="11" fill="#ff0000"/>
<text x="1660" y="46" font-size="9.6" fill="#fff" textLength="32.5" lengthAdjust="spacingAndGlyphs" stroke="#fff" stroke-width="0.22">119.228</text>
<rect x="1656" y="68" width="41" height="11" fill="#ff0000"/>
<text x="1660" y="77" font-size="9.6" fill="#fff" textLength="32.5" lengthAdjust="spacingAndGlyphs" stroke="#fff" stroke-width="0.22">118.936</text>
<rect x="1656" y="109" width="41" height="11" fill="#000"/>
<text x="1660" y="117" font-size="9.6" fill="#fff" textLength="32.5" lengthAdjust="spacingAndGlyphs" stroke="#fff" stroke-width="0.22">118.574</text>
<rect x="1656" y="116" width="41" height="11" fill="#32cd32"/>
<text x="1660" y="125" font-size="9.6" fill="#fff" textLength="32.5" lengthAdjust="spacingAndGlyphs" stroke="#fff" stroke-width="0.22">118.503</text>
<rect x="1656" y="145" width="41" height="11" fill="#0000ff"/>
<text x="1660" y="154" font-size="9.6" fill="#fff" textLength="32.5" lengthAdjust="spacingAndGlyphs" stroke="#fff" stroke-width="0.22">118.230</text>
<rect x="1656" y="181" width="41" height="11" fill="#0000ff"/>
<text x="1660" y="190" font-size="9.6" fill="#fff" textLength="32.5" lengthAdjust="spacingAndGlyphs" stroke="#fff" stroke-width="0.22">117.898</text>
<text x="1658" y="594.5" font-size="9.6" fill="#000" textLength="27.5" lengthAdjust="spacingAndGlyphs" stroke="#000" stroke-width="0.22">0.7092</text>
<rect x="1655" y="585" width="1" height="1" fill="#000"/>
<text x="1658" y="715" font-size="9.6" fill="#000" textLength="18" lengthAdjust="spacingAndGlyphs" stroke="#000" stroke-width="0.22">0.00</text>
<rect x="1655" y="711" width="1" height="1" fill="#000"/>
<text x="1658" y="750" font-size="9.6" fill="#000" textLength="31" lengthAdjust="spacingAndGlyphs" stroke="#000" stroke-width="0.22">-0.2299</text>
<rect x="1655" y="752" width="1" height="1" fill="#000"/>
<text x="1658" y="766" font-size="9.6" fill="#000" textLength="15" lengthAdjust="spacingAndGlyphs" stroke="#000" stroke-width="0.22">100</text>
<rect x="1655" y="757" width="1" height="1" fill="#000"/>
<text x="1657" y="795" font-size="9.6" fill="#000" textLength="10" lengthAdjust="spacingAndGlyphs" stroke="#000" stroke-width="0.22">80</text>
<text x="1657" y="846" font-size="9.6" fill="#000" textLength="10" lengthAdjust="spacingAndGlyphs" stroke="#000" stroke-width="0.22">50</text>
<text x="1657" y="907" font-size="9.6" fill="#000" textLength="10" lengthAdjust="spacingAndGlyphs" stroke="#000" stroke-width="0.22">15</text>
<text x="1658" y="926" font-size="9.6" fill="#000" textLength="5" lengthAdjust="spacingAndGlyphs" stroke="#000" stroke-width="0.22">0</text>
<text x="-6" y="942" font-size="10" fill="#000" textLength="46" lengthAdjust="spacingAndGlyphs" stroke="#000" stroke-width="0.22">4 Feb 2022</text>
<rect x="59" y="930" width="1" height="3" fill="#000"/>
<text x="58" y="942" font-size="10" fill="#000" textLength="50" lengthAdjust="spacingAndGlyphs" stroke="#000" stroke-width="0.22">7 Feb 00:00</text>
<rect x="123" y="930" width="1" height="3" fill="#000"/>
<text x="122" y="942" font-size="10" fill="#000" textLength="50" lengthAdjust="spacingAndGlyphs" stroke="#000" stroke-width="0.22">8 Feb 08:00</text>
<rect x="187" y="930" width="1" height="3" fill="#000"/>
<text x="186" y="942" font-size="10" fill="#000" textLength="50" lengthAdjust="spacingAndGlyphs" stroke="#000" stroke-width="0.22">9 Feb 16:00</text>
<rect x="251" y="930" width="1" height="3" fill="#000"/>
<text x="250" y="942" font-size="10" fill="#000" textLength="55.5" lengthAdjust="spacingAndGlyphs" stroke="#000" stroke-width="0.22">11 Feb 00:00</text>
<rect x="315" y="930" width="1" height="3" fill="#000"/>
<text x="314" y="942" font-size="10" fill="#000" textLength="55.5" lengthAdjust="spacingAndGlyphs" stroke="#000" stroke-width="0.22">14 Feb 08:00</text>
<rect x="379" y="930" width="1" height="3" fill="#000"/>
<text x="378" y="942" font-size="10" fill="#000" textLength="55.5" lengthAdjust="spacingAndGlyphs" stroke="#000" stroke-width="0.22">15 Feb 16:00</text>
<rect x="443" y="930" width="1" height="3" fill="#000"/>
<text x="442" y="942" font-size="10" fill="#000" textLength="55.5" lengthAdjust="spacingAndGlyphs" stroke="#000" stroke-width="0.22">17 Feb 00:00</text>
<rect x="507" y="930" width="1" height="3" fill="#000"/>
<text x="506" y="942" font-size="10" fill="#000" textLength="55.5" lengthAdjust="spacingAndGlyphs" stroke="#000" stroke-width="0.22">18 Feb 08:00</text>
<rect x="571" y="930" width="1" height="3" fill="#000"/>
<text x="570" y="942" font-size="10" fill="#000" textLength="55.5" lengthAdjust="spacingAndGlyphs" stroke="#000" stroke-width="0.22">21 Feb 16:00</text>
<rect x="635" y="930" width="1" height="3" fill="#000"/>
<text x="634" y="942" font-size="10" fill="#000" textLength="55.5" lengthAdjust="spacingAndGlyphs" stroke="#000" stroke-width="0.22">23 Feb 00:00</text>
<rect x="699" y="930" width="1" height="3" fill="#000"/>
<text x="698" y="942" font-size="10" fill="#000" textLength="55.5" lengthAdjust="spacingAndGlyphs" stroke="#000" stroke-width="0.22">24 Feb 08:00</text>
<rect x="763" y="930" width="1" height="3" fill="#000"/>
<text x="762" y="942" font-size="10" fill="#000" textLength="55.5" lengthAdjust="spacingAndGlyphs" stroke="#000" stroke-width="0.22">25 Feb 16:00</text>
<rect x="827" y="930" width="1" height="3" fill="#000"/>
<text x="826" y="942" font-size="10" fill="#000" textLength="50" lengthAdjust="spacingAndGlyphs" stroke="#000" stroke-width="0.22">1 Mar 00:00</text>
<rect x="891" y="930" width="1" height="3" fill="#000"/>
<text x="890" y="942" font-size="10" fill="#000" textLength="50" lengthAdjust="spacingAndGlyphs" stroke="#000" stroke-width="0.22">2 Mar 08:00</text>
<rect x="955" y="930" width="1" height="3" fill="#000"/>
<text x="954" y="942" font-size="10" fill="#000" textLength="50" lengthAdjust="spacingAndGlyphs" stroke="#000" stroke-width="0.22">3 Mar 16:00</text>
<rect x="1019" y="930" width="1" height="3" fill="#000"/>
<text x="1018" y="942" font-size="10" fill="#000" textLength="50" lengthAdjust="spacingAndGlyphs" stroke="#000" stroke-width="0.22">7 Mar 00:00</text>
<rect x="1083" y="930" width="1" height="3" fill="#000"/>
<text x="1082" y="942" font-size="10" fill="#000" textLength="50" lengthAdjust="spacingAndGlyphs" stroke="#000" stroke-width="0.22">8 Mar 08:00</text>
<rect x="1147" y="930" width="1" height="3" fill="#000"/>
<text x="1146" y="942" font-size="10" fill="#000" textLength="50" lengthAdjust="spacingAndGlyphs" stroke="#000" stroke-width="0.22">9 Mar 16:00</text>
<rect x="1211" y="930" width="1" height="3" fill="#000"/>
<text x="1210" y="942" font-size="10" fill="#000" textLength="55.5" lengthAdjust="spacingAndGlyphs" stroke="#000" stroke-width="0.22">11 Mar 00:00</text>
<rect x="1275" y="930" width="1" height="3" fill="#000"/>
<text x="1274" y="942" font-size="10" fill="#000" textLength="55.5" lengthAdjust="spacingAndGlyphs" stroke="#000" stroke-width="0.22">14 Mar 08:00</text>
<rect x="1339" y="930" width="1" height="3" fill="#000"/>
<text x="1338" y="942" font-size="10" fill="#000" textLength="55.5" lengthAdjust="spacingAndGlyphs" stroke="#000" stroke-width="0.22">15 Mar 16:00</text>
<rect x="1403" y="930" width="1" height="3" fill="#000"/>
<text x="1402" y="942" font-size="10" fill="#000" textLength="55.5" lengthAdjust="spacingAndGlyphs" stroke="#000" stroke-width="0.22">17 Mar 00:00</text>
<text x="-0.5" y="596" font-size="10" fill="#000" textLength="128" lengthAdjust="spacingAndGlyphs" stroke="#000" stroke-width="0.22">MACD(12,26,9) 0.4103 0.4894</text>
<text x="-0.5" y="768" font-size="10" fill="#000" textLength="68" lengthAdjust="spacingAndGlyphs" stroke="#000" stroke-width="0.22">RSI(14) 64.3494</text>
<path d="M0 39.5L2.5 35L5.5 39.5z" fill="#000"/>
<text x="10" y="40" font-size="10" fill="#000" textLength="201" lengthAdjust="spacingAndGlyphs" stroke="#000" stroke-width="0.22" style="white-space:pre">USDJPY-,H4  118.636 118.661 118.552 118.574</text>
<path d="M1449 29h9l-4.5 5z" fill="#c0c0c0"/>
<rect x="0" y="0" width="1701" height="24" fill="#f0f0f0"/>
<rect x="0" y="24" width="1701" height="1" fill="#bcbcbc"/>
<rect x="0" y="25" width="1701" height="1" fill="#666"/>
<rect x="1700" y="26" width="1" height="919" fill="#dcdcdc"/>
<circle cx="-2" cy="11" r="6" fill="#cfe6f7" stroke="#7fa8cf" stroke-width="1.5"/>
<path d="M2.5 16L7 20.5" stroke="#c9a227" stroke-width="2.6" stroke-linecap="round"/>
<rect x="15" y="1" width="1" height="21" fill="#a0a0a0"/>
<path d="M25.5 4.5h8l4 4v9.5h-12z" fill="#fff" stroke="#7a7a7a" stroke-width="1"/>
<path d="M33.5 4.5v4h4" fill="#e8e8e8" stroke="#7a7a7a" stroke-width="1"/>
<path d="M27.5 7.5h3M27.5 10.5h7M27.5 12.5h5" stroke="#8a8a8a" stroke-width="1"/>
<path d="M33.3 11h4v3.7h3.7v4h-3.7v3.5h-4v-3.5h-3.7v-4h3.7z" fill="#22c32e" stroke="#0a8a14" stroke-width="0.8"/>
<text x="43.6" y="15.6" font-size="12" fill="#000" textLength="36.4" stroke="#000" stroke-width="0.25" lengthAdjust="spacingAndGlyphs">新订单</text>
<path d="M92.5 13.8L97.5 5L107.5 13.2L100.5 19.8z" fill="#e6b422" stroke="#a87a10" stroke-width="1"/>
<path d="M95 13L98.2 7.5L104.5 12.8" fill="none" stroke="#f7de7a" stroke-width="1.6"/>
<path d="M93 15.2L100.5 21L108 14.4" fill="none" stroke="#8a6208" stroke-width="1"/>
<path d="M122.5 4.5h9l2 1.5v7h-11z" fill="#2f8fe8" stroke="#1b6fc4" stroke-width="1"/>
<path d="M125 6.5h6.5v5H125z" fill="#9fd0ff"/>
<path d="M126.5 8.5h4" stroke="#fff" stroke-width="1"/>
<path d="M123 19.5a3 3 0 0 1 0.5-6a4 4 0 0 1 7-1.2a3.2 3.2 0 0 1 5 2.8a2.3 2.3 0 0 1-1 4.4z" fill="#e9eef7" stroke="#8fa3c4" stroke-width="1"/>
<circle cx="156" cy="11.5" r="7.5" fill="none" stroke="#b7cde8" stroke-width="1.2"/>
<path d="M156 4A7.5 7.5 0 0 1 156 19" fill="#cfe8cf" stroke="#6fb36f" stroke-width="1.2"/>
<circle cx="156" cy="11.5" r="4.6" fill="none" stroke="#5b84d6" stroke-width="1.3"/>
<circle cx="156" cy="11.5" r="1.8" fill="#2a5bd0"/>
<path d="M156.5 12v8" stroke="#2fae3a" stroke-width="1.6"/>
<path d="M176.5 11.5L191 11.5L186 19.5L181 19.5z" fill="#f3d23c" stroke="#c29a12" stroke-width="0.8"/>
<ellipse cx="183.5" cy="9.8" rx="8" ry="2.6" fill="#4f9ad6" stroke="#2d73b0" stroke-width="0.8"/>
<path d="M179 9.5a4.5 5 0 0 1 9 0z" fill="#6fb4e8" stroke="#2d73b0" stroke-width="0.8"/>
<circle cx="187.4" cy="16" r="4.3" fill="#e0281c" stroke="#a81208" stroke-width="0.6"/>
<rect x="185.6" y="14.2" width="3.6" height="3.6" fill="#fff"/>
<text x="196.6" y="15.6" font-size="12" fill="#000" textLength="46.6" stroke="#000" stroke-width="0.25" lengthAdjust="spacingAndGlyphs">自动交易</text>
<rect x="251" y="1" width="1" height="21" fill="#a0a0a0"/>
<rect x="252" y="1" width="1" height="21" fill="#fff"/>
<rect x="255" y="2" width="3" height="1" fill="#b4b4b4"/>
<rect x="255" y="4" width="3" height="1" fill="#b4b4b4"/>
<rect x="255" y="6" width="3" height="1" fill="#b4b4b4"/>
<rect x="255" y="8" width="3" height="1" fill="#b4b4b4"/>
<rect x="255" y="10" width="3" height="1" fill="#b4b4b4"/>
<rect x="255" y="12" width="3" height="1" fill="#b4b4b4"/>
<rect x="255" y="14" width="3" height="1" fill="#b4b4b4"/>
<rect x="255" y="16" width="3" height="1" fill="#b4b4b4"/>
<rect x="255" y="18" width="3" height="1" fill="#b4b4b4"/>
<rect x="255" y="20" width="3" height="1" fill="#b4b4b4"/>
<path d="M269 6h1v14h-1zM267 17h14v1h-14zM268 7h3v1h-3zM279 16h1v3h-1z" fill="#505050" shape-rendering="crispEdges"/>
<path d="M275.5 7.5v8.5M275.5 8.5h2.5M273 14.5h2.5" stroke="#1f9a2f" stroke-width="1.3" fill="none"/>
<rect x="289" y="0" width="26" height="23" fill="#f8f8f8"/>
<rect x="289" y="0" width="25" height="1" fill="#a0a0a0"/>
<rect x="289" y="0" width="1" height="22" fill="#a0a0a0"/>
<rect x="314" y="0" width="1" height="23" fill="#fff"/>
<rect x="289" y="22" width="26" height="1" fill="#fff"/>
<path d="M297 6h1v14h-1zM295 17h14v1h-14zM296 7h3v1h-3zM307 16h1v3h-1z" fill="#505050" shape-rendering="crispEdges"/>
<defs><linearGradient id="cg" x1="0" y1="0" x2="0" y2="1"><stop offset="0" stop-color="#8cff9a"/><stop offset="1" stop-color="#1cd834"/></linearGradient></defs>
<path d="M303.5 4v12" stroke="#008000" stroke-width="1"/>
<rect x="301.5" y="6.5" width="4" height="7" fill="url(#cg)" stroke="#008000" stroke-width="1"/>
<path d="M325 6h1v14h-1zM323 17h14v1h-14zM324 7h3v1h-3zM335 16h1v3h-1z" fill="#505050" shape-rendering="crispEdges"/>
<path d="M326.5 15.5C329 11 331 9 332.5 9.5S335 12 336.5 13.5" stroke="#1f9a2f" stroke-width="1.3" fill="none"/>
<rect x="346" y="1" width="1" height="21" fill="#a0a0a0"/>
<path d="M364.6 14L370.1 19.2" stroke="#c9a227" stroke-width="2.8" stroke-linecap="round"/>
<circle cx="360.6" cy="10" r="5.2" fill="#d6ecfb" stroke="#4d86c8" stroke-width="1.4"/>
<path d="M357.8 10h5.6" stroke="#2f6cb8" stroke-width="1.7"/>
<path d="M360.6 7.2v5.6" stroke="#2f6cb8" stroke-width="1.7"/>
<path d="M392.9 14L398.4 19.2" stroke="#c9a227" stroke-width="2.8" stroke-linecap="round"/>
<circle cx="388.9" cy="10" r="5.2" fill="#d6ecfb" stroke="#4d86c8" stroke-width="1.4"/>
<path d="M386.09999999999997 10h5.6" stroke="#2f6cb8" stroke-width="1.7"/>
<rect x="411" y="4" width="8" height="7.8" fill="#3fa02a"/>
<rect x="411" y="4" width="8" height="2" fill="#2c7d1c"/>
<rect x="412.3" y="7" width="5.4" height="3.6" fill="#eef3ff"/>
<rect x="413.3" y="8.6" width="3.4" height="1" fill="#3fa02a"/>
<rect x="419.5" y="4" width="8" height="7.8" fill="#2f62d8"/>
<rect x="419.5" y="4" width="8" height="2" fill="#1f47b0"/>
<rect x="420.8" y="7" width="5.4" height="3.6" fill="#eef3ff"/>
<rect x="421.8" y="8.6" width="3.4" height="1" fill="#2f62d8"/>
<rect x="411" y="12.3" width="8" height="7.8" fill="#2f62d8"/>
<rect x="411" y="12.3" width="8" height="2" fill="#1f47b0"/>
<rect x="412.3" y="15.3" width="5.4" height="3.6" fill="#eef3ff"/>
<rect x="413.3" y="16.9" width="3.4" height="1" fill="#2f62d8"/>
<rect x="419.5" y="12.3" width="8" height="7.8" fill="#3fa02a"/>
<rect x="419.5" y="12.3" width="8" height="2" fill="#2c7d1c"/>
<rect x="420.8" y="15.3" width="5.4" height="3.6" fill="#eef3ff"/>
<rect x="421.8" y="16.9" width="3.4" height="1" fill="#3fa02a"/>
<rect x="436" y="1" width="1" height="21" fill="#a0a0a0"/>
<rect x="441" y="0" width="26" height="23" fill="#f8f8f8"/>
<rect x="441" y="0" width="25" height="1" fill="#a0a0a0"/>
<rect x="441" y="0" width="1" height="22" fill="#a0a0a0"/>
<rect x="466" y="0" width="1" height="23" fill="#fff"/>
<rect x="441" y="22" width="26" height="1" fill="#fff"/>
<path d="M449 6h1v14h-1zM447 17h14v1h-14zM448 7h3v1h-3zM459 16h1v3h-1z" fill="#505050" shape-rendering="crispEdges"/>
<path d="M454.5 8.5v6l4-3z" fill="#e8ffe8" stroke="#21a031" stroke-width="1.2"/>
<rect x="469" y="0" width="26" height="23" fill="#f8f8f8"/>
<rect x="469" y="0" width="25" height="1" fill="#a0a0a0"/>
<rect x="469" y="0" width="1" height="22" fill="#a0a0a0"/>
<rect x="494" y="0" width="1" height="23" fill="#fff"/>
<rect x="469" y="22" width="26" height="1" fill="#fff"/>
<path d="M477 6h1v14h-1zM475 17h14v1h-14zM476 7h3v1h-3zM487 16h1v3h-1z" fill="#505050" shape-rendering="crispEdges"/>
<path d="M483.5 6v10" stroke="#1f66b8" stroke-width="1.3"/>
<path d="M489 11.5h-4M486.6 9.6L484.6 11.5L486.6 13.4" stroke="#d84a12" stroke-width="1.2" fill="none"/>
<rect x="498" y="1" width="1" height="21" fill="#a0a0a0"/>
<path d="M508.5 4.5h7l4 4v9h-11z" fill="#fff" stroke="#7a7a7a" stroke-width="1"/>
<path d="M515.5 4.5v4h4" fill="#e8e8e8" stroke="#7a7a7a" stroke-width="1"/>
<path d="M512.5 8v6M511 9h1.5M511 13h1.5" stroke="#555" stroke-width="1" fill="none"/>
<path d="M516 10.3h4v3.8h3.8v4h-3.8v3.7h-4v-3.7h-3.8v-4h3.8z" fill="#22c32e" stroke="#0a8a14" stroke-width="0.8"/>
<path d="M530.0 11.2h5l-2.5 3z" fill="#000"/>
<circle cx="554" cy="11.8" r="7" fill="#fff" stroke="#2a62c8" stroke-width="2.2"/>
<circle cx="554" cy="11.8" r="8" fill="none" stroke="#1b3f96" stroke-width="0.6"/>
<path d="M554 7.8v4.3h3" stroke="#444" stroke-width="1.2" fill="none"/>
<path d="M569.0 11.2h5l-2.5 3z" fill="#000"/>
<rect x="585.5" y="5.5" width="15" height="13" fill="#fff" stroke="#2f6fd0" stroke-width="1"/>
<rect x="585" y="5" width="16" height="2.6" fill="#2f6fd0"/>
<path d="M585.5 12.5h15" stroke="#9fc0ee" stroke-width="1"/>
<path d="M587.5 10.5l3-1l3 0.5l3-1.5l2.5 0.5" stroke="#c8201a" stroke-width="1.2" fill="none"/>
<path d="M587.5 16.5l3-1.5l2.5 1l3-2l2.5 2" stroke="#1f9a2f" stroke-width="1.2" fill="none"/>
<path d="M607.8 11.2h5l-2.5 3z" fill="#000"/>
<rect x="619" y="1" width="1" height="21" fill="#a0a0a0"/>
<rect x="620" y="1" width="1" height="21" fill="#fff"/>
<rect x="623" y="2" width="3" height="1" fill="#b4b4b4"/>
<rect x="623" y="4" width="3" height="1" fill="#b4b4b4"/>
<rect x="623" y="6" width="3" height="1" fill="#b4b4b4"/>
<rect x="623" y="8" width="3" height="1" fill="#b4b4b4"/>
<rect x="623" y="10" width="3" height="1" fill="#b4b4b4"/>
<rect x="623" y="12" width="3" height="1" fill="#b4b4b4"/>
<rect x="623" y="14" width="3" height="1" fill="#b4b4b4"/>
<rect x="623" y="16" width="3" height="1" fill="#b4b4b4"/>
<rect x="623" y="18" width="3" height="1" fill="#b4b4b4"/>
<rect x="623" y="20" width="3" height="1" fill="#b4b4b4"/>
<rect x="629" y="0" width="26" height="23" fill="#f8f8f8"/>
<rect x="629" y="0" width="25" height="1" fill="#a0a0a0"/>
<rect x="629" y="0" width="1" height="22" fill="#a0a0a0"/>
<rect x="654" y="0" width="1" height="23" fill="#fff"/>
<rect x="629" y="22" width="26" height="1" fill="#fff"/>
<path d="M637.3 5.2V16.2L640 13.7L642.6 19.2L644.6 18.3L642 12.9L645.4 12.6z" fill="#4a4a4a"/>
<path d="M662 12.5h6M671 12.5h6M669.5 5v6M669.5 14v6" stroke="#505050" stroke-width="1" fill="none"/>
<rect x="686" y="1" width="1" height="21" fill="#a0a0a0"/>
<path d="M703.5 6v13" stroke="#606060" stroke-width="1.2"/>
<path d="M726 12.5h12.2" stroke="#606060" stroke-width="1.2"/>
<path d="M753.7 18.8L766.1 7" stroke="#606060" stroke-width="1.2"/>
<path d="M780 16L793 6M782 19L795 9" stroke="#505050" stroke-width="1.1" fill="none"/>
<path d="M783.5 11.5v7M786.5 9.5v7M789.5 7v7M792.5 4.5v7" stroke="#505050" stroke-width="1" fill="none"/>
<text x="790.5" y="21" font-size="6.5" font-weight="bold" fill="#303030">E</text>
<path d="M809 5.5H822" stroke="#505050" stroke-width="1" stroke-dasharray="1 1"/>
<path d="M809 8.5H822" stroke="#505050" stroke-width="1" stroke-dasharray="1 1"/>
<path d="M809 12.5H822" stroke="#505050" stroke-width="1" stroke-dasharray="1 1"/>
<path d="M809 16.5H817" stroke="#505050" stroke-width="1" stroke-dasharray="1 1"/>
<text x="818.5" y="21" font-size="6.5" font-weight="bold" fill="#303030">F</text>
<text x="839.2" y="17" font-size="12.5" font-weight="bold" fill="#606060">A</text>
<rect x="866.5" y="6.5" width="11" height="12" fill="none" stroke="#505050" stroke-width="1" stroke-dasharray="1 1" shape-rendering="crispEdges"/>
<text x="868" y="16.5" font-size="11" font-weight="bold" fill="#505050">T</text>
<path d="M897 5.5L900 8.5L897 11.5L894 8.5z" fill="#505050"/>
<path d="M904 13L907 16L904 19L901 16z" fill="#505050"/>
<path d="M895.5 13l2 2.2l5.5-6.5" stroke="#505050" stroke-width="1.4" fill="none"/>
<path d="M913.8 11.2h5l-2.5 3z" fill="#000"/>
<rect x="925" y="1" width="1" height="21" fill="#a0a0a0"/>
<rect x="926" y="1" width="1" height="21" fill="#fff"/>
<rect x="929" y="2" width="3" height="1" fill="#b4b4b4"/>
<rect x="929" y="4" width="3" height="1" fill="#b4b4b4"/>
<rect x="929" y="6" width="3" height="1" fill="#b4b4b4"/>
<rect x="929" y="8" width="3" height="1" fill="#b4b4b4"/>
<rect x="929" y="10" width="3" height="1" fill="#b4b4b4"/>
<rect x="929" y="12" width="3" height="1" fill="#b4b4b4"/>
<rect x="929" y="14" width="3" height="1" fill="#b4b4b4"/>
<rect x="929" y="16" width="3" height="1" fill="#b4b4b4"/>
<rect x="929" y="18" width="3" height="1" fill="#b4b4b4"/>
<rect x="929" y="20" width="3" height="1" fill="#b4b4b4"/>
<rect x="1075" y="0" width="26" height="23" fill="#f8f8f8"/>
<rect x="1075" y="0" width="25" height="1" fill="#a0a0a0"/>
<rect x="1075" y="0" width="1" height="22" fill="#a0a0a0"/>
<rect x="1100" y="0" width="1" height="23" fill="#fff"/>
<rect x="1075" y="22" width="26" height="1" fill="#fff"/>
<text x="940.3" y="16" font-size="10" fill="#404040" textLength="12.8" lengthAdjust="spacingAndGlyphs">M1</text>
<text x="968.5" y="16" font-size="10" fill="#404040" textLength="12.5" lengthAdjust="spacingAndGlyphs">M5</text>
<text x="994.7" y="16" font-size="10" fill="#404040" textLength="17.5" lengthAdjust="spacingAndGlyphs">M15</text>
<text x="1022.5" y="16" font-size="10" fill="#404040" textLength="18" lengthAdjust="spacingAndGlyphs">M30</text>
<text x="1053.6" y="16" font-size="10" fill="#404040" textLength="11.6" lengthAdjust="spacingAndGlyphs">H1</text>
<text x="1080.3" y="16" font-size="10" fill="#404040" textLength="12.4" lengthAdjust="spacingAndGlyphs">H4</text>
<text x="1109" y="16" font-size="10" fill="#404040" textLength="12.3" lengthAdjust="spacingAndGlyphs">D1</text>
<text x="1136.7" y="16" font-size="10" fill="#404040" textLength="14.3" lengthAdjust="spacingAndGlyphs">W1</text>
<text x="1163.6" y="16" font-size="10" fill="#404040" textLength="14.5" lengthAdjust="spacingAndGlyphs">MN</text>
<rect x="1186" y="1" width="1" height="21" fill="#a0a0a0"/>
<path d="M1653.2 12.8L1649.2 16.8" stroke="#2f5fd0" stroke-width="2.8" stroke-linecap="round"/>
<circle cx="1656.6" cy="9.4" r="3.8" fill="#f4f6ff" stroke="#2f5fd0" stroke-width="1.3"/>
<path d="M1674 14a5.5 4.6 0 1 1 5 4.5l-2.6 2l0.4-2.6a5 4.4 0 0 1-2.8-3.9z" fill="#e4e6ee" stroke="#b4b8c4" stroke-width="0.8"/>
<defs><linearGradient id="bd" x1="0" y1="0" x2="0" y2="1"><stop offset="0" stop-color="#e8583a"/><stop offset="1" stop-color="#c41c0c"/></linearGradient></defs>
<circle cx="1687.4" cy="9.4" r="8.1" fill="url(#bd)"/>
<text x="1687.6" y="13.8" font-size="12.5" fill="#fff" text-anchor="middle">1</text>
<defs>
<linearGradient id="rg" x1="0" y1="48" x2="0" y2="105" gradientUnits="userSpaceOnUse">
<stop offset="0" stop-color="#fa5252"/><stop offset="0.42" stop-color="#dd2a2a"/><stop offset="1" stop-color="#b80000"/></linearGradient>
<linearGradient id="bt" x1="0" y1="0" x2="0" y2="1"><stop offset="0" stop-color="#f2f2f2"/><stop offset="0.5" stop-color="#dcdcdc"/><stop offset="0.5" stop-color="#cdcdcd"/><stop offset="1" stop-color="#d8d8d8"/></linearGradient>
</defs>
<rect x="0" y="47" width="218" height="59" fill="#fff"/>
<path d="M0 48H50V72H107V105H0z" fill="url(#rg)"/>
<path d="M165 48H217V105H109V72H165z" fill="url(#rg)"/>
<path d="M0 48.5H49.5V72" fill="none" stroke="#b81010" stroke-width="1"/>
<path d="M165.5 72V48.5H216.5V105" fill="none" stroke="#b81010" stroke-width="1"/>
<path d="M0 104.5H107M109 104.5H217M106.5 72V105M109.5 72V105" fill="none" stroke="#a80000" stroke-width="1"/>
<rect x="2" y="71" width="44" height="1" fill="#8e0000"/><rect x="2" y="72" width="44" height="1" fill="#f39a9a"/>
<rect x="169" y="71" width="44" height="1" fill="#8e0000"/><rect x="169" y="72" width="44" height="1" fill="#f39a9a"/>
<rect x="52.5" y="48.5" width="111" height="21" fill="#fff" stroke="#a4aab2" stroke-width="1"/>
<rect x="54" y="50" width="18" height="18" fill="url(#bt)"/><rect x="72.5" y="49" width="1" height="20" fill="#a4aab2"/>
<rect x="144" y="50" width="18" height="18" fill="url(#bt)"/><rect x="142.5" y="49" width="1" height="20" fill="#a4aab2"/>
<path d="M60 57h6l-3 3.4z" fill="#4a5ac8"/><path d="M149.5 60h6l-3-3.4z" fill="#4a5ac8"/>
<text x="138" y="63.5" font-size="12.5" fill="#000" text-anchor="end" textLength="23.5" lengthAdjust="spacingAndGlyphs">1.00</text>
<text x="10.2" y="64.2" font-size="12.5" fill="#fff" textLength="25.8" lengthAdjust="spacingAndGlyphs">SELL</text>
<text x="178.5" y="64.2" font-size="12.5" fill="#fff" textLength="23" lengthAdjust="spacingAndGlyphs">BUY</text>
<text x="21.3" y="100" font-size="12" font-weight="bold" fill="#fff" textLength="20.5" lengthAdjust="spacingAndGlyphs">118</text>
<text x="46.5" y="100.3" font-size="34" fill="#fff" stroke="url(#rg)" stroke-width="0.45" textLength="33" lengthAdjust="spacingAndGlyphs">57</text>
<text x="85" y="83.8" font-size="11.5" font-weight="bold" fill="#fff">4</text>
<text x="131" y="100" font-size="12" font-weight="bold" fill="#fff" textLength="20.5" lengthAdjust="spacingAndGlyphs">118</text>
<text x="156" y="100.3" font-size="34" fill="#fff" stroke="url(#rg)" stroke-width="0.45" textLength="34" lengthAdjust="spacingAndGlyphs">60</text>
<text x="196" y="83.8" font-size="11.5" font-weight="bold" fill="#fff">9</text>
</svg>
</body></html>
